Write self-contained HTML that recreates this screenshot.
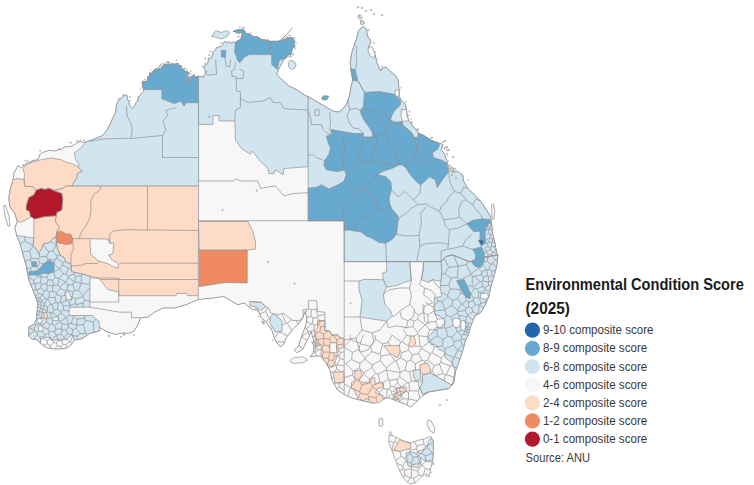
<!DOCTYPE html>
<html lang="en"><head><meta charset="utf-8"><title>Environmental Condition Score (2025)</title>
<style>html,body{margin:0;padding:0;background:#fff;}body{width:754px;height:485px;position:relative;overflow:hidden;font-family:"Liberation Sans",sans-serif;}</style>
</head><body>
<svg width="754" height="485" viewBox="0 0 754 485" style="position:absolute;left:0;top:0">
<polygon points="18.1,165.4 21.4,167.9 24.7,164.6 27.2,162.7 30.2,161.9 33,160.5 37.9,159.7 38.9,157.3 39.6,154.7 42.6,152.4 46.2,151.4 49.4,150.4 52.8,150.6 55.6,151 58.2,149.4 61,149.8 63.2,147.7 66,146.5 69.3,146.8 72.5,145.7 74.8,144.5 76.8,142.7 79.1,141.5 81.6,142 84.1,142.4 85.7,141.9 92.3,139.9 102.2,135.8 107.2,130 111.5,120.9 115.7,112.7 116.5,104.4 118.5,101 120.1,99.6 121.4,97.8 123.3,96.2 126.4,94.8 127.2,96.8 127.3,99 128.8,101.3 129.3,104 130,105.8 131.2,107.3 132.5,108.7 133.6,107 135,105.5 135.6,103.5 136.6,101.9 138.1,100.5 138.3,98.5 138.9,96.7 140.3,95.3 141.2,93.7 143.7,91.2 143.7,89.6 143.2,88 142.3,86.4 142.8,84.6 142,83 142.9,81.2 145.6,81.9 147.2,81.1 147.8,78.9 147.5,76.9 149.4,76.3 149.6,74.7 149.8,73 153.2,73.5 152.8,71.4 154.2,70.5 155.2,68.8 157.6,69.9 158.3,67.6 160.9,69.4 161.8,67.3 162.9,65.7 164.2,64.5 166,64.5 167.7,64.4 169.4,64.3 171.5,65.2 172.5,63.2 173.9,64.5 176,63.9 178.1,63.4 179.1,65.7 181.3,65.9 180.5,69.4 183.2,69 183.9,70.8 185.7,71.4 188,72 188.9,73.4 187,76.4 189,77.2 188.4,78.8 189.2,80.6 188.2,82.2 188.7,80.3 189,78.4 190.3,77.1 192.3,76.4 193.9,74.6 195.4,77.7 197,76.3 198.6,76.4 203.9,77.2 204,74.8 206.2,73.4 206.6,71.1 204.8,69.9 204.1,67.8 204.2,65.6 206.4,64.6 208,63.4 208.2,61.2 208.7,58.6 211.6,57.8 212.4,55.4 212.9,53.1 213.8,51.1 215.7,49.7 216.7,47.6 218.7,47.1 220.6,46.4 222.4,45.1 223.3,43.1 224.7,41.4 226.4,42.8 228.8,41.9 230.5,43.1 232.9,42.3 235.4,42.3 241.2,39 241.5,36.3 242.9,34 240.6,32.6 237.9,33.2 235.8,31.4 233,31.5 235.1,30.5 237.4,30.1 239.6,29.6 242.1,29.8 244.5,30.7 245.3,32.7 247,34 249.3,33.9 251.2,34.8 252.8,36.5 255,36.8 257.3,37 259.4,38.1 261.2,39.5 263.3,39.9 265.5,40.1 267.6,40.6 270.1,41.4 277.5,41.4 279.3,41.2 281,40.7 282.7,40.3 284.1,39 286,39.7 287.2,37.2 289.1,38.1 290.7,37.3 292.8,38 293.5,39.9 294.8,41.4 294,43.9 294.8,46.4 292.7,47.8 292,49.9 291.5,52.2 290.9,54.3 289,54.6 287.4,55.4 286.4,57.7 284.1,58.7 281.6,63.7 278.3,69.5 276.7,74.4 282.4,80.2 289,86 297.3,90.1 305.5,95.8 308.2,96.5 316.5,101.5 324.7,106.4 333,111 336,112 339.6,111.6 344,107.8 347.1,102.9 349.2,96.5 350.4,91 351.5,85 352.8,80 351.1,70.9 350.3,62.7 351.9,52.8 354.4,44.5 356.9,37.9 358.5,30.5 363.5,26.4 366,28.9 367.6,36.3 370.9,41.2 368.4,47.8 375,54.4 376.7,62.7 380.8,70.9 384.9,66.8 389.9,70.9 395.6,75.8 398.1,80 399,90 399,96.5 402.3,101.1 405.1,103.9 406.5,109.5 406.9,116 408.8,120.6 412,125.3 417.1,130.9 418.1,133.1 423.9,135.6 431.3,140.5 438.7,143 442.9,144.6 441.2,149.6 444.5,154.5 447,161.1 448.6,169.4 452.8,172.7 456.9,171 462.7,175.1 463.5,181 467.6,188.2 474.2,194.8 480.8,201.4 485.7,208.9 489.9,215.4 491.5,222.9 492.3,232.8 494.8,242.7 496.5,252.5 497.9,255 497.1,263.2 495.4,271.5 492.9,279.7 490.5,288 488.8,296.2 485.5,304.5 480.6,312.7 475,315.8 473.1,320.4 470.4,326.9 468.5,334.4 464.8,341.8 463.9,346.4 460.4,358 455.4,371.2 453.8,382.7 448.8,388.5 438.9,390.1 429,391.8 422.4,395.9 415.8,402.5 410.5,407 405,404 401,402.5 394.4,400 387.8,397.5 381.2,400 373,403.3 363.1,400.8 353.2,398.4 346.6,395.9 344.2,394.5 337.5,390 332,380 329.9,370 325.7,362.5 320.8,356 315.8,356 310.1,356.8 313.4,352.7 314.2,346 313.4,339.5 310.9,331.2 309.3,336.2 306,342.8 302.7,349.4 296.9,352.7 294.4,350.2 298.5,346 301,337.8 303.5,331.2 306,324.6 306.8,318 305.1,311.4 302.7,318 299.4,323 292.8,329.6 286.2,337.8 283.7,344.4 280.4,346.9 275.4,341.1 272.2,331.2 266.4,322.2 261.4,318 258.1,309.8 252.4,309.8 246.6,304.8 244,303.1 237.9,304.7 232.1,301.4 223.9,296.5 212.3,298.1 198.3,299.5 186,304.7 174.4,308 162.9,308 154.6,312.2 148,317.1 140.6,317.9 138.1,324.5 134,331.1 128.2,333.6 124,332.8 115.4,334.4 107.2,331.9 98.9,327 98.9,331.1 89,333.6 82.4,338.5 74.2,340.2 70.9,345.1 66,348.4 56.1,349.2 46.2,347.6 40.4,343.5 36,339 32.2,339.4 28.9,336.1 28.9,327 33.8,324.5 36.3,319.6 37.1,311.3 37.9,303.1 35.4,296.5 32.2,288.2 28.9,280 26.4,266 23.1,254.4 19.8,242.9 16.5,234.6 14.8,228 17.3,221.4 14.8,213.2 9.9,206.6 9.1,200 9.1,196 10.7,187.7 13.2,179.5 14,172.9" fill="#f7f7f7" stroke="#8f8f8f" stroke-width="0.9" stroke-linejoin="round"/>
<polygon points="85.7,141.9 92.3,139.9 102.2,135.8 107.2,130 111.5,120.9 115.7,112.7 116.5,104.4 118.5,101 120.1,99.6 121.4,97.8 123.3,96.2 126.4,94.8 127.2,96.8 127.3,99 128.8,101.3 129.3,104 130,105.8 131.2,107.3 132.5,108.7 133.6,107 135,105.5 135.6,103.5 136.6,101.9 138.1,100.5 138.3,98.5 138.9,96.7 140.3,95.3 141.2,93.7 143.7,91.2 143.7,89.6 143.2,88 142.3,86.4 142.8,84.6 142,83 142.9,81.2 145.6,81.9 147.2,81.1 147.8,78.9 147.5,76.9 149.4,76.3 149.6,74.7 149.8,73 153.2,73.5 152.8,71.4 154.2,70.5 155.2,68.8 157.6,69.9 158.3,67.6 160.9,69.4 161.8,67.3 162.9,65.7 164.2,64.5 166,64.5 167.7,64.4 169.4,64.3 171.5,65.2 172.5,63.2 173.9,64.5 176,63.9 178.1,63.4 179.1,65.7 181.3,65.9 180.5,69.4 183.2,69 183.9,70.8 185.7,71.4 188,72 188.9,73.4 187,76.4 189,77.2 188.4,78.8 189.2,80.6 188.2,82.2 188.7,80.3 189,78.4 190.3,77.1 192.3,76.4 193.9,74.6 195.4,77.7 197,76.3 198.6,76.4 198.6,186.1 71.7,186.1 72.5,184.4 76.7,177.8 77.5,173.2 82.4,171.2 77.5,168.7 79.1,165.4 75.8,159.7 74.2,153.1 82.4,146.5" fill="#d1e5f0" stroke="#8f8f8f" stroke-width="0.7" stroke-linejoin="round"/>
<polygon points="143.7,89.6 143.2,88 142.3,86.4 142.8,84.6 142,83 142.9,81.2 145.6,81.9 147.2,81.1 147.8,78.9 147.5,76.9 149.4,76.3 149.6,74.7 149.8,73 153.2,73.5 152.8,71.4 154.2,70.5 155.2,68.8 157.6,69.9 158.3,67.6 160.9,69.4 161.8,67.3 162.9,65.7 164.2,64.5 166,64.5 167.7,64.4 169.4,64.3 171.5,65.2 172.5,63.2 173.9,64.5 176,63.9 178.1,63.4 179.1,65.7 181.3,65.9 180.5,69.4 183.2,69 183.9,70.8 185.7,71.4 188,72 188.9,73.4 187,76.4 189,77.2 188.4,78.8 189.2,80.6 188.2,82.2 188.7,80.3 189,78.4 190.3,77.1 192.3,76.4 193.9,74.6 195.4,77.7 197,76.3 198.6,76.4 198.6,102.8 185.7,102.8 184.1,106.1 180.8,101.1 174.2,103.6 161.8,98.6 161.8,89.6" fill="#67a9cf" stroke="#8f8f8f" stroke-width="0.7" stroke-linejoin="round"/>
<polygon points="24.7,165.4 34.6,161.3 41.2,159.7 51.1,158 61,159.7 66,162.2 72.5,163.8 78.3,167.1 81.9,171.2 77.5,173.2 76.7,177.8 72.5,184.4 71.7,186.1 66,186.1 62.7,188.5 54.4,190.2 49.5,188.5 44.5,189.4 41.2,188.5 36.3,190.2 33,186.9 24.7,186.1 23.9,179.5 24.7,174.5 23.1,169.6" fill="#fddbc7" stroke="#8f8f8f" stroke-width="0.7" stroke-linejoin="round"/>
<polygon points="14,179.5 18.1,178.6 23.9,179.5 24.7,186.1 33,186.9 36.3,190.2 33.8,195.1 28.9,197.6 26.4,205.8 26.4,209.9 29.7,211.5 30.5,216.5 28.9,218.5 20.6,222.3 17.3,221.4 14.8,213.2 9.9,206.6 9.1,200 9.1,196 10.7,187.7 13.2,179.5" fill="#fddbc7" stroke="#8f8f8f" stroke-width="0.7" stroke-linejoin="round"/>
<polygon points="61.8,193.5 54.4,190.6 62.7,188.5 66,186.1 198.6,186.1 198.3,295.7 187.6,295.7 186.8,293.2 177,293.5 176,295.7 118.7,295.7 118.7,292 107.5,289.5 100,279.5 98.9,278.3 82.4,274.2 71.7,271.7 70.9,266 70.9,263.5 66,262.7 64.3,257.7 60.2,255.2 57.7,249.5 56.1,242.5 56.1,237.1 56.9,232.2 59.4,227.2 55.2,221.4 56.1,215.7 56.9,212.4 61.8,209.9 62.7,199.2" fill="#fddbc7" stroke="#8f8f8f" stroke-width="0.7" stroke-linejoin="round"/>
<polygon points="34.6,219 44.5,216.5 56.1,215.7 55.2,221.4 59.4,227.2 56.9,231.3 56.1,237.1 52.8,238.7 49.5,242.9 43.7,243.7 41.2,249.5 38.7,253.6 35.4,247.8 33,246.2 33.8,237.9 33.8,219.5" fill="#fddbc7" stroke="#8f8f8f" stroke-width="0.7" stroke-linejoin="round"/>
<polygon points="89.9,238.7 108,239.1 109.6,243.2 113.8,243.2 112.9,253.6 108.8,255.2 112.1,260.2 118.7,263.5 117.9,268.4 113.8,266.8 107.2,263.5 98.9,261 90.7,254.4" fill="#f7f7f7" stroke="#8f8f8f" stroke-width="0.7" stroke-linejoin="round"/>
<polygon points="36.3,190.2 41.2,188.5 44.5,189.4 49.5,188.5 54.4,191 61.8,193.5 62.7,199.2 61.8,209.9 56.9,212.4 56.1,215.7 44.5,216.5 34.6,219 30.5,216.5 29.7,211.5 26.4,209.9 26.4,205.8 28.9,197.6 33.8,195.1" fill="#b2182b" stroke="#8f8f8f" stroke-width="0.7" stroke-linejoin="round"/>
<polygon points="56.9,232.2 61.8,231.3 65.1,233.8 70.9,234.3 72.5,238.7 71.7,243.7 66,244.5 61,243.2 56.1,242 56.1,237.1" fill="#ef8a62" stroke="#8f8f8f" stroke-width="0.7" stroke-linejoin="round"/>
<polygon points="16.5,235.4 33.8,237.9 33,246.2 35.4,247.8 38.7,253.6 41.2,249.5 43.7,243.7 49.5,242.9 52.8,238.7 56.1,237.1 56.1,242.5 57.7,249.5 60.2,255.2 64.3,257.7 66,262.7 70.9,263.5 70.9,266 71.7,271.7 82.4,274.2 89.9,276 89.9,307.2 69.2,307.2 69.2,315.5 92.3,315.5 95.6,318.7 98.9,321.2 99.7,329.5 98.9,331.1 89,333.6 82.4,338.5 74.2,340.2 72.5,334.4 66,339.7 51.1,340.2 49.5,337.7 40.4,336.9 40.4,343.5 36,339 32.2,339.4 28.9,336.1 28.9,327 33.8,324.5 36.3,319.6 37.1,311.3 37.9,303.1 35.4,296.5 32.2,288.2 28.9,280 26.4,266 23.1,254.4 19.8,242.9" fill="#d1e5f0" stroke="#8f8f8f" stroke-width="0.7" stroke-linejoin="round"/>
<polygon points="198.6,76.4 203.9,77.2 204,74.8 206.2,73.4 206.6,71.1 204.8,69.9 204.1,67.8 204.2,65.6 206.4,64.6 208,63.4 208.2,61.2 208.7,58.6 211.6,57.8 212.4,55.4 212.9,53.1 213.8,51.1 215.7,49.7 216.7,47.6 218.7,47.1 220.6,46.4 222.4,45.1 223.3,43.1 224.7,41.4 226.4,42.8 228.8,41.9 230.5,43.1 232.9,42.3 235.4,42.3 241.2,39 241.5,36.3 242.9,34 240.6,32.6 237.9,33.2 235.8,31.4 233,31.5 235.1,30.5 237.4,30.1 239.6,29.6 242.1,29.8 244.5,30.7 245.3,32.7 247,34 249.3,33.9 251.2,34.8 252.8,36.5 255,36.8 257.3,37 259.4,38.1 261.2,39.5 263.3,39.9 265.5,40.1 267.6,40.6 270.1,41.4 277.5,41.4 279.3,41.2 281,40.7 282.7,40.3 284.1,39 286,39.7 287.2,37.2 289.1,38.1 290.7,37.3 292.8,38 293.5,39.9 294.8,41.4 294,43.9 294.8,46.4 292.7,47.8 292,49.9 291.5,52.2 290.9,54.3 289,54.6 287.4,55.4 286.4,57.7 284.1,58.7 281.6,63.7 278.3,69.5 276.7,74.4 282.4,80.2 289,86 297.3,90.1 305.5,95.8 308.2,96.5 308.2,166.7 284,168.5 283,174.7 275.5,169.7 274,173.5 269,173.5 268,168.5 260,161 252.3,150.7 250.5,154.2 241.8,148.9 235.5,140 234.8,120.9 219,120.9 219,115.6 213,115.6 213,124.4 198.6,124.4" fill="#d1e5f0" stroke="#8f8f8f" stroke-width="0.7" stroke-linejoin="round"/>
<polygon points="235.4,42.3 241.2,39 241.5,36.3 242.9,34 240.6,32.6 237.9,33.2 235.8,31.4 233,31.5 235.1,30.5 237.4,30.1 239.6,29.6 242.1,29.8 244.5,30.7 245.3,32.7 247,34 249.3,33.9 251.2,34.8 252.8,36.5 255,36.8 257.3,37 259.4,38.1 261.2,39.5 263.3,39.9 265.5,40.1 267.6,40.6 270.1,41.4 270.1,54.6 249.5,54.6 244.5,57.1 239.6,62.9 237.1,59.6 234.6,51.3" fill="#67a9cf" stroke="#8f8f8f" stroke-width="0.7" stroke-linejoin="round"/>
<polygon points="270.1,41.4 277.5,41.4 279.3,41.2 281,40.7 282.7,40.3 284.1,39 286,39.7 287.2,37.2 289.1,38.1 290.7,37.3 292.8,38 293.5,39.9 294.8,41.4 294,43.9 294.8,46.4 292.7,47.8 292,49.9 291.5,52.2 290.9,54.3 289,54.6 287.4,55.4 286.4,57.7 284.1,58.7 279.1,60.4 277.5,69.5 271.7,64.5 271.7,54.6 270.1,54.6" fill="#67a9cf" stroke="#8f8f8f" stroke-width="0.7" stroke-linejoin="round"/>
<polygon points="221.4,50.5 225.6,50.5 225.6,57.1 221.4,57.1" fill="#67a9cf" stroke="#8f8f8f" stroke-width="0.7" stroke-linejoin="round"/>
<polygon points="308.2,96.5 316.5,101.5 324.7,106.4 333,111 336,112 339.6,111.6 344,107.8 347.1,102.9 349.2,96.5 350.4,91 351.5,85 352.8,80 351.1,70.9 350.3,62.7 351.9,52.8 354.4,44.5 356.9,37.9 358.5,30.5 363.5,26.4 366,28.9 367.6,36.3 370.9,41.2 368.4,47.8 375,54.4 376.7,62.7 380.8,70.9 384.9,66.8 389.9,70.9 395.6,75.8 398.1,80 399,90 399,96.5 402.3,101.1 405.1,103.9 406.5,109.5 406.9,116 408.8,120.6 412,125.3 417.1,130.9 418.1,133.1 423.9,135.6 431.3,140.5 438.7,143 442.9,144.6 441.2,149.6 444.5,154.5 447,161.1 448.6,169.4 452.8,172.7 456.9,171 462.7,175.1 463.5,181 467.6,188.2 474.2,194.8 480.8,201.4 485.7,208.9 489.9,215.4 491.5,222.9 492.3,232.8 494.8,242.7 496.5,252.5 497.9,255 492,256 480,258 470,262 452.5,255 446,256.6 441,261.6 344.2,261.6 344.2,220.7 308.2,220.7" fill="#d1e5f0" stroke="#8f8f8f" stroke-width="0.7" stroke-linejoin="round"/>
<polygon points="364.3,92.4 379.1,91.6 392.1,93.7 394.9,94.6 398.1,97.4 400.4,100.7 400.9,103.9 398.6,106.7 393.9,111.4 391.6,116 390.7,119.7 393.9,122 398.6,122 402.3,121.6 402.7,125.7 406,128.1 409.7,130.9 412.5,133.6 414,137.5 418.1,137 418.1,133.1 423.9,135.6 431.3,140.5 438.7,143 439.6,145.4 437.1,149.6 432.2,152.9 433.8,157.8 442,160.3 446.2,162.8 448.6,171.8 442.9,179.3 437.1,187.5 435.4,180.1 429.7,176.8 420.6,185 415.7,180.9 409.9,174.3 405.8,167.7 402.2,165 398.9,165 392.3,168.3 382.4,171.6 377.5,174.9 385.7,176.5 390.7,181.5 391.5,189.7 389,198 389.9,204.6 392.3,209.5 398.1,216.1 398.1,221.1 396.5,234.2 392.3,239.2 385.7,243.3 379.1,242.5 372.5,238.4 366,235.9 361,231.8 354.4,231 349.5,230.1 344.2,230.1 344.2,220.7 308.2,220.7 308.2,188.1 316.5,187.3 321.4,184.8 328.9,188.9 336.3,185.6 343.7,181.5 346.2,174.9 344.5,169.9 337.9,171.6 326.4,169.9 323.9,165 324.7,160.8 328.9,154.3 330.5,147.7 328,142.7 326.4,136.1 332.2,134.5 331.3,129.5 344.5,132 354.4,133.6 363.5,133.6 363.5,136.9 372.5,136.9 372.5,132.8 368.4,126.2 364.3,120.4 361.8,115.5 360.2,110.6 363.5,106.4" fill="#67a9cf" stroke="#8f8f8f" stroke-width="0.7" stroke-linejoin="round"/>
<polygon points="351.1,68.4 355.2,70 357.7,80 352.8,80" fill="#67a9cf" stroke="#8f8f8f" stroke-width="0.7" stroke-linejoin="round"/>
<polygon points="198.5,221.5 248,221.5 250,226 253,232 255.5,242 255.5,249 247.2,250.2 199.2,250.2" fill="#fddbc7" stroke="#8f8f8f" stroke-width="0.7" stroke-linejoin="round"/>
<polygon points="199.2,250.2 247.2,250.2 247.2,283 225.5,282.5 199.2,286.6" fill="#ef8a62" stroke="#8f8f8f" stroke-width="0.7" stroke-linejoin="round"/>
<polygon points="441,261.6 446,256.6 452.5,255 470,262 480,258 492,256 497.9,255 497.1,263.2 495.4,271.5 492.9,279.7 490.5,288 488.8,296.2 485.5,304.5 480.6,312.7 475,315.8 473.1,320.4 470.4,326.9 468.5,334.4 464.8,341.8 463.9,346.4 460.4,358 455.4,371.2 453.8,382.7 448.8,388.5 438.9,390.1 429,391.8 422.4,394.2 420,387.7 422.4,382.7 422.4,375.3 429.9,372.8 438.9,377.8 452.1,385.2 455.4,371.2 452.1,362.9 445.5,358 443.9,351.4 438.9,349.7 435,344 431.4,345 427.6,339.9 428.6,336.2 434.6,330.6 435.1,327.9 441.1,326.9 445.3,322.3 444.8,319.5 440.6,316.7 434.6,313.9 434.1,300 434.4,297.9 441.8,296.2 440.2,288 441,281.4 441.8,271.5" fill="#d1e5f0" stroke="#8f8f8f" stroke-width="0.7" stroke-linejoin="round"/>
<polygon points="386.6,261.6 409.7,261.6 410.5,271.5 411.3,280.6 404.7,282.2 396.5,285.5 386.6,287.2 383.3,279.7 382.5,273.1 386.6,271.5" fill="#d1e5f0" stroke="#8f8f8f" stroke-width="0.7" stroke-linejoin="round"/>
<polygon points="359,281 364,279.5 376,279.5 380,279.7 383.3,279.7 386.6,287.2 383.3,294.6 384.9,304.5 389.9,309.4 392.4,316 386.6,321 372,319 360,317 362,300 359,290" fill="#d1e5f0" stroke="#8f8f8f" stroke-width="0.7" stroke-linejoin="round"/>
<polygon points="423.7,261.6 441,261.6 441.8,271.5 441,281.4 432.8,279.7 427.8,282.2 421.2,279.7 422.9,271.5" fill="#d1e5f0" stroke="#8f8f8f" stroke-width="0.7" stroke-linejoin="round"/>
<polygon points="317.5,320.5 324.9,320.5 324.9,330.4 329.9,331.2 332.3,335.3 337.3,334.5 340.6,337.8 343.9,338.6 343.9,347.7 338.9,348.5 337.3,356 334.8,362.5 332.3,367.5 329.9,366.7 325.7,362.5 320.8,356 321.6,347.7 317.5,344.4 315,337.8 314.2,331.2 317.5,327.9" fill="#fddbc7" stroke="#8f8f8f" stroke-width="0.7" stroke-linejoin="round"/>
<polygon points="354.8,371.2 360.6,370.3 362.3,376.1 359,380.2 363.1,382.7 370.5,381.9 371.3,377.8 374.6,377.8 375.4,384.4 379.6,382.7 383.7,383.5 382.9,387.7 377.1,388.5 375.4,392.6 382,395.1 383.7,399.2 379.6,402.5 373,403.3 368,398.4 363.1,400.8 356.5,395.9 354.8,390.9 351.5,387.7 351.5,382.7 354.8,380.2" fill="#fddbc7" stroke="#8f8f8f" stroke-width="0.7" stroke-linejoin="round"/>
<polygon points="396.1,387.7 406,386.8 406.8,390.9 401.8,394.2 399.4,399.2 394.4,400 392.8,395.9 396.9,392.6" fill="#fddbc7" stroke="#8f8f8f" stroke-width="0.7" stroke-linejoin="round"/>
<path d="M20.2,244 24.6,241.1M24.6,241.1 24.9,236.7M29,335 34.4,330.8M34.4,330.8 34.1,330.2M34.1,330.2 29,327.4M25.1,260.9 30.6,259.6M30.6,259.6 31.5,258.6M31.5,258.6 29.7,251M29.7,251 22.5,251.8M29.7,251 33.1,246.4M33,245.5 24.6,241.1M30.6,259.6 32.2,266.2M32.2,266.2 37.7,266.5M37.7,266.5 39.4,262.9M39.4,262.9 38.1,258.6M38.1,258.6 31.5,258.6M26.9,268.4 30.4,268.7M30.4,268.7 32.2,266.2M28.4,276.8 32.3,272.7M32.3,272.7 30.4,268.7M38.1,258.6 39.6,256.8M39.6,256.8 39.1,253.1M31,284.8 34.1,283.1M34.1,283.1 33.6,280.4M33.6,280.4 28.5,277.3M33.6,280.4 37.3,276.2M37.3,276.2 34.9,273.1M34.9,273.1 32.3,272.7M33.6,339.2 37.3,334.9M37.3,334.9 37.1,332.3M37.1,332.3 34.4,330.8M33.2,290.4 36.2,289.6M36.2,289.6 34.9,283.5M34.9,283.5 34.1,283.1M51,241.2 56,245.2M56,245.2 56.6,245.1M35.5,296.5 38.1,293.3M38.1,293.3 36.9,289.9M36.9,289.9 36.2,289.6M34.1,330.2 35.4,324.7M35.4,324.7 34.4,323.5M37.1,332.3 40.5,330.5M40.5,330.5 42.3,327M42.3,327 42.1,325.5M42.1,325.5 40.7,324.2M40.7,324.2 35.4,324.7M34.9,273.1 38.2,268.5M38.2,268.5 37.7,266.5M34.9,283.5 40.6,282.8M40.6,282.8 41,276.9M41,276.9 37.3,276.2M36.9,314.5 38.7,314.5M38.7,314.5 39.4,311.8M39.4,311.8 37.3,310.8M39.6,256.8 46.6,256.5M46.6,256.5 48.9,251.7M48.9,251.7 43.1,245.4M36.9,289.9 40.8,287.8M40.8,287.8 41.6,284M41.6,284 40.6,282.8M40.7,324.2 39.9,319M39.9,319 36.5,318.9M41,276.9 42,270.7M42,270.7 38.2,268.5M39.9,319 40.7,318M40.7,318 38.7,314.5M40.9,317.9 42.3,312.3M42.2,312.2 39.4,311.8M37.8,302.6 38.6,301.8M38.6,301.8 38.1,300M38.1,300 36.5,299.2M42,270.7 44.7,269.6M44.7,269.6 45.9,264.9M45.9,264.9 39.4,262.9M38.1,300 40.2,299M40.2,299 40.1,297.8M40.1,297.8 35.7,297.1M50.5,348.2 50.1,346M50.1,346 47.4,343.7M47.4,343.7 43.1,345.3M39.8,342.8 41.4,338.9M41.4,338.9 37.3,334.9M47.4,343.7 47.3,340.8M47.3,340.8 43.3,338.3M43.3,338.3 41.4,338.9M39.4,311.8 40.7,308M40.7,308 40.4,307.5M40.4,307.5 37.6,307M43.3,338.3 45,334.5M45,334.5 40.5,330.5M38.1,293.3 42.2,294.6M42.3,294.6 44.3,291.2M44.3,291.2 40.8,287.8M42.1,325.5 46.5,322.1M46.5,322.1 46.5,319.4M46.5,319.4 44.6,317.6M44.6,317.6 40.9,317.9M37.9,304.4 40.5,304.1M40.5,304.1 41.2,301.9M41.2,301.9 38.6,301.8M40.1,297.8 42.2,294.6M41.6,284 46.5,284.2M46.5,284.2 48.1,279.8M48.1,279.8 46.7,277.1M46.7,277.1 41,276.9M44.3,291.2 46.6,290.5M46.6,290.5 47.3,285.2M47.3,285.2 46.5,284.2M41.5,301.6 41.7,300.8M41.7,300.8 40.2,299M40.4,307.5 41.4,305.7M41.4,305.7 40.5,304.1M42.2,312.2 42.5,308.8M42.5,308.8 40.7,308M41.4,305.7 44.5,305M44.5,305 44.4,304.2M44.4,304.2 41.5,301.6M41.7,300.8 45.9,298.5M45.9,298.5 42.3,294.6M42.6,308.7 45.1,305.7M45.1,305.7 44.5,305M45,334.5 48.4,333.3M48.4,333.3 49.2,332M49.2,332 47.9,328.9M47.9,328.9 42.3,327M42.3,312.3 46.4,312.8M46.4,312.8 47.7,311.8M47.7,311.8 47.4,310.9M47.4,310.9 42.6,308.7M45.9,264.9 46.5,264.5M46.5,264.5 48,259.1M48,259.1 46.6,256.5M44.4,304.2 47.4,298.9M47.4,298.9 45.9,298.5M45.1,305.7 47.4,306.9M47.4,306.9 50.9,304.1M50.9,304.1 47.6,298.9M44.6,317.6 46.4,312.8M47.4,310.9 47.4,306.9M47.6,298.9 49,297.5M49,297.5 49.5,292.1M49.5,292.1 46.6,290.5M46.5,319.4 50.8,317.8M50.8,317.8 51,312.9M51,312.9 47.7,311.8M48.9,251.7 52.8,251.1M52.8,251.1 56,245.2M44.7,269.6 48.9,273.2M48.9,273.2 51.5,272.3M51.5,272.3 50.8,266.3M50.8,266.3 46.5,264.5M47.3,340.8 50.3,338.4M50.3,338.4 48.4,333.3M46.7,277.1 48.9,273.2M47.9,328.9 50.5,324.5M50.5,324.5 46.5,322.1M49.5,292.1 52.6,291M52.6,291 52.8,285.9M52.8,285.9 47.3,285.2M55.1,348.9 57.4,345.6M57.4,345.6 56.4,343M56.4,343 53.8,342.5M53.8,342.5 50.1,346M52.8,285.9 53.5,285.2M53.5,285.2 52.6,280.2M52.6,280.2 48.1,279.8M52.6,280.2 55.5,277.4M55.5,277.4 53.7,273M53.7,273 51.5,272.3M50.9,304.1 52,304.3M52,304.3 56.1,302.4M56.1,302.4 54.9,297.6M54.9,297.6 49,297.5M50.5,324.5 52.2,324.1M52.2,324.1 52.6,319.6M52.6,319.6 50.8,317.8M51,312.9 52,312.5M52,312.5 53.7,310.1M53.7,310.1 52,304.3M53.8,342.5 52.1,338.8M52.1,338.8 50.3,338.4M49.2,332 54.5,331.5M54.5,331.5 55.7,329M55.7,329 54.7,325.5M54.7,325.5 52.2,324.1M48,259.1 54.8,260M54.8,260 56.8,258.2M56.8,258.2 57.1,256.2M57.1,256.2 52.8,251.1M52.1,338.8 56.2,335.8M56.2,335.8 56.3,335.1M56.3,335.1 54.5,331.5M54.8,260 54.2,264.4M54.2,264.4 59.1,268.7M59.5,268.7 62.6,265M62.6,265 62.9,263M62.9,263 56.8,258.2M50.8,266.3 54.2,264.4M52.6,319.6 57.9,317.9M57.9,317.9 58.1,316.3M58.1,316.3 52,312.5M54.9,297.6 56.7,294.2M56.7,294.2 56.5,293M56.5,293 52.6,291M56.4,343 58.6,340.5M58.6,340.5 56.2,335.8M53.7,273 59.1,268.7M56.5,293 60.3,288.5M60.3,288.5 59.9,286.8M59.9,286.8 58.1,285.2M58.1,285.2 53.5,285.2M57.1,256.2 59.8,254.6M53.7,310.1 57.6,309.3M57.6,309.3 58,303.1M58,303.1 56.1,302.4M54.7,325.5 60,321.7M60,321.7 57.9,317.9M58.1,285.2 58.7,278.5M58.7,278.5 55.5,277.4M58.1,316.3 61,313.1M61,313.1 61.1,311.9M61.1,311.9 57.6,309.3M56.3,335.1 61.1,334.3M61.1,334.3 62.2,329.9M62.2,329.9 61.3,329M61.3,329 55.7,329M58,303.1 60.5,302.6M60.5,302.6 61.2,296.4M61.2,296.4 56.7,294.2M61.4,348.7 61,346.6M61,346.6 57.4,345.6M61,346.6 62.9,344.3M62.9,344.3 61.5,340.6M61.5,340.6 58.6,340.5M61.3,329 62,323.9M62,323.9 60.4,321.8M60.4,321.8 60,321.7M58.7,278.5 59.4,278.3M59.4,278.3 63,273.8M63,273.8 59.5,268.7M61.2,296.4 64.9,295.1M64.9,295.1 65.3,290.8M65.3,290.8 60.3,288.5M60.4,321.8 66.2,317.6M66.3,317.4 61,313.1M59.9,286.8 65.3,282.2M65.3,282.2 59.4,278.3M62.9,263 65.3,261M66.8,347.7 65.9,344.7M65.9,344.7 62.9,344.3M61.1,311.9 63.3,309.9M63.3,309.9 63.7,306.2M63.7,306.2 61.5,303M61.5,303 60.5,302.6M63,273.8 66,274M66,274 68.7,268.5M68.7,268.5 62.6,265M62.2,329.9 66.2,330M66.2,330 68.4,327.1M68.4,327.1 68.3,324.7M68.3,324.7 62,323.9M61.5,340.6 64.2,337.4M64.2,337.3 61.1,334.3M64.2,337.3 67.7,333.9M67.7,333.9 66.2,330M65.9,344.7 69.1,341.7M69.1,341.7 64.2,337.4M61.5,303 66.1,300.3M66.1,300.3 66.1,296.5M66.1,296.5 64.9,295.1M65.3,290.8 66.8,290M66.8,290 68.1,285.1M68.1,285.1 65.7,282.1M66.3,317.4 69.2,315.6M69.1,311.3 63.3,309.9M68.7,268.5 71,267.7M65.7,282.1 68.2,277.6M68.2,277.6 68.1,276.3M68.1,276.3 66,274M68.3,324.7 68.7,324.2M68.7,324.2 66.2,317.6M68.1,276.3 74.1,273.9M74.1,273.9 74.3,272.4M72.1,343.1 70.6,341.7M70.6,341.7 69.1,341.7M66.1,296.5 72.3,296.5M72.3,296.5 73,291.9M73,291.9 66.8,290M70.6,341.7 72.7,335.8M72.7,335.8 71.8,334.7M71.8,334.7 67.7,333.9M63.7,306.2 69.9,305M69.9,305 69.4,302.5M69.4,302.5 66.1,300.3M69.4,302.5 72.9,297.5M72.9,297.5 72.3,296.5M68.7,324.2 71.2,323.2M71.2,323.2 73.6,316.3M73.6,316.3 73.3,315.6M71.8,334.7 72.9,329.9M72.9,329.9 68.4,327.1M72.9,329.9 76,328.2M76,328.2 76.6,325.4M76.6,325.4 71.2,323.2M68.1,285.1 72.8,284.4M72.8,284.4 74.5,281.8M74.5,281.8 68.2,277.6M70.5,307.1 70.1,305.2M70.1,305.2 75.7,303.7M75.7,303.7 75.4,298.8M75.4,298.8 72.9,297.5M74.1,273.9 75.8,276.2M75.8,276.2 81.3,275.9M81.3,275.9 82.6,274.3M73,291.9 74.7,290.5M74.7,290.5 72.8,284.4M76.7,307.1 76.5,304.4M76.5,304.4 75.7,303.7M75.4,298.8 82.9,296.7M82.9,296.7 82.9,295.2M82.9,295.2 78.3,290.5M78.3,290.5 74.7,290.5M87.5,334.6 85.7,333.5M85.7,333.5 80.5,333.5M80.5,333.5 76.9,336M76.9,336 77.5,339.4M76.9,336 72.7,335.8M80.5,333.5 76,328.2M74.8,281.7 75.8,276.2M78.3,290.5 81.3,283.4M81.3,283.4 74.8,281.7M73.6,316.3 77.1,319.1M77.1,319.1 84.3,318.1M84.3,318.1 84.4,315.6M76.6,325.4 76.9,325.1M76.9,325.1 77.1,319.1M76.5,304.4 83.2,303.1M83.2,303.1 84.9,300.1M84.9,300.1 82.9,296.7M76.9,325.1 83.5,324.7M83.5,324.7 85.6,320.6M85.6,320.6 84.3,318.1M85.7,333.5 83.5,324.7M82.9,295.2 89.8,287.9M89.8,284.6 81.4,283.3M81.3,275.9 81.4,283.3M83.2,307.1 83.2,303.1M89.8,301 84.9,300.1M96.2,319.3 93.5,321.9M93.5,321.9 93.9,332.3M93.5,321.9 85.6,320.6" fill="none" stroke="#8f8f8f" stroke-width="0.7"/>
<path d="M350.5,387.6 347.8,396.2M356.9,399.2 360.3,393.2M360.3,393.2 359.6,391.7M359.6,391.7 350.5,387.6M350.5,387.5 344.3,384M344.3,346.3 350.7,339.7M350.7,339.7 349.9,335.1M409.3,318.8 414,321.4M414,321.4 417.6,319.2M417.6,319.2 418.4,315.1M418.4,315.1 413.8,311.1M350.7,339.7 360.3,343M360.3,343 363.2,335.1M352.4,352.3 344.3,347.4M344.3,363.7 345.6,363.6M345.6,363.6 351.6,359.5M351.6,359.5 352.4,352.3M352.4,352.3 358.4,349.7M358.4,349.7 360.5,343.7M360.5,343.7 360.3,343M345.6,363.6 353.2,371.2M353.2,371.2 359.4,367.9M359.4,367.9 360,363.2M360,363.2 351.6,359.5M344.3,377.6 352.2,375.2M352.2,375.2 353.2,371.2M352.2,375.2 356.4,379.7M356.4,379.7 357.5,379.8M357.5,379.8 364,373.9M364,373.9 363.9,372.9M363.9,372.9 359.4,367.9M350.5,387.5 356.4,379.7M360,363.2 365,359.2M365,359.2 365.1,358.1M365.1,358.1 358.4,349.7M367.9,401.9 368.9,396.6M368.9,396.6 367.7,394.6M367.7,394.6 360.3,393.2M359.6,391.7 361.9,384.8M361.9,384.8 357.5,379.8M367.7,394.6 372.4,386.5M372.4,386.5 372.3,385.8M372.3,385.8 369.5,382.8M369.5,382.8 361.9,384.8M374.8,335.1 375.7,339.2M375.7,339.2 382.7,343.9M382.7,343.9 388.2,342.3M388.2,342.3 392,335.1M369.5,382.8 369.3,379.3M369.3,379.3 364,373.9M365.1,358.1 372,351.6M372,351.6 370.4,346.5M370.4,346.5 360.5,343.7M363.9,372.9 372,367.4M372,367.4 372.2,365M372.2,365 365,359.2M368.9,396.6 375.9,397.9M375.9,397.9 379.5,394.1M379.5,394.1 379.4,392.4M379.4,392.4 372.4,386.5M372.2,365 380.5,360.5M380.5,360.5 381.1,356M381.1,356 380,354.3M380,354.3 372,351.6M370.4,346.5 375.7,339.2M369.3,379.3 375.7,373.4M375.7,373.4 372,367.4M372.3,385.8 379.9,381.8M379.9,381.8 378.2,374.1M378.2,374.1 375.7,373.4M378.2,374.1 386.3,370M386.3,370 386.1,367.8M386.1,367.8 380.5,360.5M380,354.3 382.7,343.9M377,401.6 375.9,397.9M385.6,398.2 379.5,394.1M379.4,392.4 383.9,388.5M383.9,388.5 382.3,382.7M382.3,382.7 379.9,381.8M386.1,367.8 395.2,360.6M395.2,360.6 389.8,354.4M389.8,354.4 381.1,356M389.8,354.4 392.5,349M392.5,349 388.2,342.3M382.3,382.7 388.4,379.5M388.4,379.5 386.5,370.2M399.4,401.8 399.6,400.8M399.6,400.8 397.1,397.9M397.1,397.9 396,397.7M396,397.7 394.4,398M394.4,398 392.5,399.2M386.7,397.8 387,389.4M387,389.4 383.9,388.5M388.5,397.7 391.6,393.5M391.6,393.5 391.5,391.6M391.5,391.6 389,388.9M389,388.9 387,389.4M404,328.1 413,326.6M413,326.6 414,321.4M389,388.9 390.4,386.6M390.4,386.6 389.5,380.2M389.5,380.2 388.4,379.5M392.5,349 397.8,348.7M397.8,348.7 400.7,342M400.7,342 392,335.1M389.5,380.2 397.2,379.4M397.2,379.4 399.6,376.5M399.6,376.5 400.1,372.5M400.1,372.5 386.5,370.2M400.1,372.5 400.5,372M400.5,372 396.1,360.7M396.1,360.7 395.2,360.6M394.4,398 393.3,394.4M393.3,394.4 391.6,393.5M391.5,391.6 393.7,391.1M393.7,391.1 395.7,389.1M395.7,389.1 394.3,386.7M394.3,386.7 390.4,386.6M397.2,379.4 397.6,382.7M397.6,382.7 400.8,386.9M400.8,386.9 401.6,386.9M401.6,386.9 407.3,382.6M407.3,382.6 399.6,376.5M394.3,386.7 397.6,382.7M396,397.7 395.6,393.9M395.6,393.9 393.3,394.4M393.7,391.1 396,393.3M396,393.3 397.3,392.9M397.3,392.8 396.2,389.2M396.2,389.2 395.7,389.1M395.6,393.9 396,393.3M396.2,389.2 399.8,388.3M399.8,388.3 400.8,386.9M396.1,360.7 400.6,357.9M400.6,357.9 401.6,352.7M401.6,352.7 397.8,348.7M397.1,397.9 398.7,395.2M398.7,395.2 397.3,392.9M407,405 408.4,398.9M408.4,398.9 403,398.7M403,398.7 399.6,400.8M403,398.7 401.3,395.2M401,395 398.7,395.2M399.9,391.4 399.8,388.3M397.3,392.8 399.9,391.4M399.9,391.4 404.2,392.1M404.2,392.1 405.5,391.5M405.5,391.5 401.6,386.9M401,395 399.9,391.4M401.3,395.2 404.2,392.1M401.6,352.7 408.5,350.2M408.5,350.2 409.3,346.4M409.3,346.4 402,341.8M402,341.8 400.7,342M406.5,335.2 403.2,329.6M402,341.8 406.5,335.2M406.5,335.2 412.1,336.9M412.1,336.9 417.4,334.3M417.4,334.3 417.5,332.3M417.5,332.3 413,326.6M408.5,398.9 408.5,392.2M408.5,392.2 405.5,391.5M407.3,382.6 408.8,382.8M408.8,382.8 411.5,381M411.5,381 409.6,371.9M409.6,371.9 404.9,370.4M404.9,370.4 400.5,372M408.5,392.2 409.6,390.8M409.6,390.8 408.8,382.8M404.9,370.4 406.9,361.5M406.9,361.5 400.6,357.9M409.3,346.4 410.7,345.3M410.7,345.3 412.1,336.9M406.9,361.5 410.8,360.1M410.8,360.1 412.3,354.9M412.3,354.9 408.5,350.2M417.4,400.7 408.5,398.9M409.6,390.8 418.2,390.8M418.2,390.8 419.3,388.6M419.3,388.6 418.2,382.2M418.2,382.2 417.4,381.5M417.4,381.5 411.5,381M412.3,354.9 418.4,353.5M418.4,353.5 421.4,348.3M421.4,348.3 421.3,347.5M421.3,347.5 420.3,346.4M420.3,346.4 410.7,345.3M419.9,398.2 418.2,390.8M409.6,371.9 415.5,369.5M415.5,369.5 415.2,363.9M415.2,363.9 410.8,360.1M417.5,332.3 425.2,324.9M425.2,324.9 417.6,319.2M418.4,315.1 423,312.6M423,312.6 423,304M417.4,381.5 419.1,371.6M419.1,371.6 415.5,369.5M415.2,363.9 422,360.2M422,360.2 418.4,353.5M429.9,391.5 429.4,388.5M429.4,388.5 419.3,388.6M425.2,324.9 425.9,324.8M425.9,324.8 428.2,322M428.2,322 427.8,314.8M427.8,314.8 423,312.6M441.7,274 444.8,273.7M444.8,273.7 448.5,267.4M448.5,267.4 444.3,258.4M418.2,382.2 426.5,380M426.5,380 426.2,372.5M426.2,372.5 423.3,370.9M423.3,370.9 419.1,371.6M429.4,388.5 431.8,383.9M431.8,383.9 426.5,380M423.3,370.9 425,361.2M425,361.2 422,360.2M420.3,346.4 418.8,335.7M418.8,335.7 417.4,334.3M425,361.2 427.8,360.2M427.8,360.2 430.3,353.7M430.3,353.7 421.4,348.3M418.8,335.7 427.6,336.8M427.6,336.8 429.4,329.5M429.4,329.5 425.9,324.8M421.3,347.5 430.4,341M430.4,341 430.4,340.2M430.4,340.2 427.6,336.8M425.7,302.2 433.1,307.2M433.1,307.2 438.2,300.8M438.2,300.8 436.5,297.5M426.2,372.5 432.1,371M432.1,371 434.4,365.5M434.4,365.5 427.8,360.2M429.4,329.5 437,330.2M437,330.2 438.4,328.5M438.4,328.5 435.7,321.5M435.7,321.5 428.2,322M430.3,353.7 432.1,352.8M432.1,352.8 434.5,347M434.5,347 430.4,341M440.5,389.7 439,385M439,385 433.9,383.2M433.9,383.2 431.8,383.9M433.9,383.2 435.5,375.5M435.5,375.5 432.1,371M434.1,310.7 433.1,307.2M427.8,314.8 433.9,311M434.1,310.7 444.8,310M444.8,310 445,309.4M445,309.4 441.9,301.9M441.9,301.9 438.2,300.8M434.4,365.5 439.4,364M439.4,364 440.8,362.4M440.8,362.4 441.3,358M441.3,358 432.1,352.8M430.4,340.2 437.2,336M437.2,336 437,330.2M434.5,347 442.5,345.7M442.5,345.7 443,339.6M443,339.6 437.2,336M435.5,375.5 443,373.7M443,373.7 439.4,364M435.7,321.5 437.3,319.1M437.3,319.1 433.9,311M443,339.6 447.7,336.1M447.7,336.1 445.9,328.4M445.9,328.4 444.8,327.7M444.8,327.7 438.4,328.5M437.3,319.1 444.1,318.4M444.1,318.4 446.6,315.5M446.6,315.5 444.8,310M450.8,386.1 443.8,382.1M443.8,382.1 439,385M443.8,382.1 445.3,374.9M445.3,374.9 443,373.7M444.8,327.7 444.1,318.4M441.3,358 445.4,353.7M445.4,353.7 445.1,348.7M445.1,348.7 442.5,345.7M445.3,374.9 446.1,374.7M446.1,374.7 450.4,365.8M450.4,365.8 440.8,362.4M441.9,301.9 447.8,296.6M447.8,296.6 447.5,295.2M447.5,295.2 441.1,292.2M445,309.4 452,305.1M452,305.1 452.7,300.4M452.7,300.4 447.8,296.6M445.1,348.7 453.4,345.3M453.4,345.3 454.2,341.4M454.2,341.4 451.7,337.2M451.7,337.2 447.7,336.1M447.5,295.2 450.7,288.9M450.7,288.9 448.7,285.4M448.7,285.4 440.6,285.4M445.9,328.4 454.2,325.2M454.2,325.2 450.7,316.7M450.7,316.7 446.6,315.5M450.4,365.8 451.9,365.3M451.9,365.3 453.6,357.3M453.6,357.3 445.4,353.7M450.7,316.7 457.4,313.1M457.4,313.1 457.8,311.6M457.8,311.6 457.4,310M457.4,310 452,305.1M448.5,267.4 458.3,266.2M458.3,266.2 453.8,255.6M448.7,285.4 451,278.3M451,278.3 444.8,273.7M452.7,300.4 457.3,298.6M457.3,298.6 460.8,293M460.8,293 459.9,289.6M459.9,289.6 450.7,288.9M451,278.3 457.4,277.2M457.4,277.2 458.3,266.2M454.4,377.3 446.1,374.7M453.6,357.3 454.3,356.9M454.3,356.9 457.7,350.2M457.6,349.9 453.4,345.3M451.7,337.2 457,331.7M457,331.7 454.8,325.4M454.8,325.4 454.2,325.2M459.9,359.1 454.3,356.9M451.9,365.3 456.4,368.2M458.3,266.2 466.4,264.6M466.4,264.6 468.4,261.5M457.4,310 461.8,304.1M461.8,304 457.3,298.6M459.9,289.6 461.6,285.5M461.6,285.5 460.6,279.7M460.6,279.7 457.4,277.2M454.8,325.4 459,323.3M459,323.3 459.6,322.8M459.6,322.8 459.3,315.4M459.3,315.4 457.4,313.1M454.2,341.4 460.5,340.2M460.5,340.2 461.6,338.8M461.6,338.8 461.5,335.5M461.5,335.5 458.3,332.2M458.3,332.2 457,331.7M460.6,279.7 471,274.5M471,274.5 471,274M471,274 466.4,264.6M457.6,349.9 462.3,345M462.3,345 460.5,340.2M457.8,311.6 465.2,310.4M465.2,310.4 466.3,307.8M466.3,307.8 461.8,304.1M459.3,315.4 466.7,316.7M466.7,316.7 467.6,316.1M467.6,316.1 467.8,315.3M467.8,315.3 465.2,310.4M461.8,304 466.4,300.7M466.4,300.7 465.3,295.1M465.3,295.1 460.8,293M462.2,351.8 457.7,350.2M486.2,302.5 485.7,302.2M485.7,302.2 480.6,303.6M480.6,303.6 479.7,305.1M479.7,305.1 483.4,307.8M458.3,332.2 462.1,329.7M462.1,329.7 462.3,327.9M462.3,327.9 459,323.3M461.5,335.5 463.2,334.7M463.2,334.7 464.5,331.3M464.5,331.3 464.2,330.2M464.2,330.2 462.1,329.7M464,345.4 462.3,345M459.6,322.8 462,322.7M462,322.7 465.4,321.3M465.4,321.3 466.7,316.7M462.3,327.9 464.2,327.1M464.2,327.1 464.3,326.4M464.3,326.4 462,322.7M492.7,256 495.1,259.8M495.1,259.8 497.3,259.8M465.3,295.1 471,293.9M471,293.9 473.8,288.3M473.8,288.3 473.4,287.4M473.4,287.4 472.2,286.2M472.2,286.2 461.6,285.5M465.8,321.7 466,326M466,326 467.2,326.8M467.2,326.8 467.9,326.5M467.9,326.5 469,323.4M469,323.4 465.8,321.7M465.8,321.7 465.4,321.3M464.3,326.4 466,326M466.3,307.8 468.5,306.9M468.5,306.9 468.6,302.1M468.6,302.1 466.4,300.7M465.8,339.6 461.6,338.8M464.2,330.2 465.1,329.3M465.1,329.3 465.2,328.6M465.2,328.6 464.2,327.1M465.2,328.6 467.1,327.1M472.2,286.2 472.3,275.9M472.3,275.9 471,274.5M469,323.4 471.8,323.2M473.2,319.9 467.6,316.1M467.7,335.9 465.9,334.6M465.9,334.6 463.2,334.7M468.9,332.6 466.9,332M466.9,332.1 465.9,334.6M464.5,331.3 466.9,332.1M466.9,332 467.3,330M467.3,330 465.1,329.3M467.8,315.3 472.8,311.7M472.8,311.7 472,308.4M472,308.4 468.5,306.9M467.3,330 467.8,329.6M467.8,329.6 467.1,327.1M467.8,329.6 469.6,329.7M470.1,327.7 467.9,326.5M468.6,302.1 473.1,300.5M473.1,300.5 473.8,298.2M473.8,298.2 471,293.9M479.7,305.1 479.2,305.4M479.2,305.4 478.2,313.9M473.8,298.2 478.3,297.5M478.3,297.5 478.9,292.1M478.9,292.1 476.3,289.2M476.3,289.2 473.8,288.3M471,274 478.4,268.2M478.4,268.2 478.7,266M478.7,266 472.1,261.3M472,308.4 475.4,304.8M475.4,304.8 473.1,300.5M477.7,314.2 472.8,311.7M473.4,287.4 480,281.6M480,281.6 474.6,276.4M474.6,276.4 472.3,275.9M475.4,304.8 479.2,305.4M480.6,303.6 479.7,298.3M479.7,298.3 478.3,297.5M478.4,268.2 482,271.9M482,271.9 486.4,269.8M486.4,269.8 482.5,263.7M482.5,263.7 478.7,266M474.6,276.4 481.4,274.6M481.4,274.6 482,271.9M476.3,289.2 482.8,286.4M482.8,286.4 481.8,281.8M481.8,281.8 480,281.6M481.8,281.8 482.8,280.9M482.8,280.9 483.5,277M483.5,277 481.4,274.6M480.4,258 483.2,262.4M483.2,262.4 486.9,261.3M486.9,261.3 488.2,256.7M482.5,263.7 483.2,262.4M478.9,292.1 483.2,292.4M483.2,292.4 485,289.4M485,289.4 484.7,287.7M484.7,287.7 482.8,286.4M479.7,298.3 484.5,296.7M484.7,296.4 483.2,292.4M483.5,277 487.5,276M487.5,276 486.9,269.9M486.9,269.9 486.4,269.8M485.7,302.2 484.5,296.7M488.8,295.7 484.7,296.4M489.6,291.7 485,289.4M484.7,287.7 488.5,285.2M488.5,285.2 488.4,282.1M488.4,282.1 482.8,280.9M486.9,269.9 489,269.1M489,269.1 490.9,264.2M490.9,264.2 486.9,261.3M490.8,286.6 488.5,285.2M488.4,282.1 488.8,281.6M488.8,281.6 488.5,276.5M488.5,276.5 487.5,276M492.4,281.2 488.8,281.6M490.9,264.2 492.5,263.7M492.5,263.7 495.1,259.8M488.5,276.5 491.8,275.7M491.8,275.7 492,271.2M492,271.2 489,269.1M492,271.2 495.5,270.4M496.3,266.8 492.5,263.7M493.7,276.8 491.8,275.7" fill="none" stroke="#8f8f8f" stroke-width="0.7"/>
<path d="M488.3,258.5 487.4,256.5M487.4,256.5 484.2,257M484.2,252.9 486.4,252M486.4,252 486.6,251.5M486.6,251.5 484.7,247.9M486,243.3 487.4,243.3M487.4,243.3 488.5,241.8M488.5,241.8 487.9,239.5M487.9,239.5 485.7,238.4M485.8,226.1 486.9,224.5M486.9,224.5 485.8,222.1M484.5,226.1 485.8,226.1M485.8,226.1 487.6,229.3M487.6,229.3 488.3,229.7M488.3,229.7 488.9,229.4M488.9,229.4 490.3,225.7M490.3,225.7 489.3,224.4M489.3,224.4 486.9,224.5M484.9,230 487.6,229.3M489.3,224.4 490.1,222.1M485.3,235 488.3,233.3M488.3,233.3 488.3,229.7M487.9,239.5 490.1,238.1M490.1,238.1 490.1,234.4M490.1,234.4 488.3,233.3M487.4,256.5 488.4,254.9M488.4,254.9 486.4,252M488.4,254.9 491.7,254.5M491.7,254.5 492.6,252.5M492.6,252.5 490.4,249.4M490.4,249.4 486.6,251.5M484.8,247.5 488.1,246.5M488.1,246.5 487.4,243.3M488.1,246.5 490.5,247.6M490.5,247.6 491.5,246.7M491.5,246.7 491.5,242.8M491.5,242.8 488.5,241.8M490.4,249.4 490.5,247.6M492.4,255.8 491.7,254.5M490.1,234.4 492.5,234M492,229.7 488.9,229.4M491.5,242.8 492.3,242.2M492.3,242.2 492.7,239M492.7,239 490.1,238.1M492.6,252.5 493.3,252.3M493.3,252.3 495.9,249.4M495.4,246.7 491.5,246.7M497.1,253.8 493.3,252.3M492.7,239 493.6,238.5M491.6,225.7 490.3,225.7M492.3,242.2 494.7,242.8" fill="none" stroke="#8f8f8f" stroke-width="0.7"/>
<path d="M256.1,309.7 255.5,302M259.8,313.8 265.7,311.5M265.7,311.5 267.6,307.6M266.2,321.9 269.2,318.6M269.2,318.6 265.7,311.5M308.6,308.5 311.3,309.9M311.3,309.9 315.6,309.3M315.6,309.3 317.1,307.8M274.5,337.9 279,331.8M279,331.8 277.8,327.4M277.8,327.4 276.8,326.7M276.8,326.7 270.4,328.3M269.2,318.6 274.6,319.4M274.6,319.4 278.5,314.6M276.8,326.7 274.6,319.4M277.8,327.4 286.1,322.9M286.1,322.9 281.8,313.8M305.5,312.7 308.1,309.1M284.5,342.1 276.1,341.7M302.8,349 298.9,344.9M286.1,322.9 287.4,323.3M287.4,323.3 291.6,319.7M287.7,335.8 279,331.8M291.9,330.6 287.4,323.3M298,324.2 296.3,320.6M316.2,355.9 315.5,352.5M315.5,352.5 313.6,351.5M331.8,378.4 335.6,376.9M335.6,376.9 333.9,372.6M333.9,372.6 330.4,372M301.5,336.7 307.8,332.4M307.8,332.4 308,331.8M308,331.8 306.6,328.9M306.6,328.9 304.8,328M307.1,340.5 301.5,336.7M309.5,335.3 307.8,332.4M306.6,328.9 311.2,323.9M311.2,323.9 306.5,321M311.2,323.9 312.1,323.8M312.1,323.8 313.2,318.1M313.2,318.1 311,316.3M311,316.3 306.8,317.7M311,316.3 311.3,309.9M314.1,344.1 315,343.3M315,343.3 315.2,340.8M315.2,340.8 313.7,341M308,331.8 310.8,331.2M311,331.1 314.1,330.5M314.1,330.5 314.1,325.1M314.1,325.1 312.1,323.8M313.2,318.1 317.4,317.2M317.4,317.2 318.2,315.6M318.2,315.6 315.6,309.3M314.1,325.1 318.7,324.1M318.7,324.1 319.6,321.8M319.6,321.8 317.4,317.2M312.6,336.6 315.4,335.8M315.4,335.8 316.5,332.8M316.5,332.8 314.1,330.5M334.2,383.7 337.7,382.7M337.7,382.7 336.7,377.4M336.7,377.4 335.6,376.9M318.6,349.9 316.3,346.4M316.2,346.4 314.1,347.4M315.5,352.5 318.6,349.9M318.6,349.9 321.8,349.4M321.8,349.4 323,345.7M323,345.7 320.6,344.6M320.6,344.6 316.4,346.2M315.2,340.8 317.3,339.3M317.3,339.3 315.4,335.8M316.5,332.8 319.9,331.9M319.9,331.9 320.7,326.7M320.7,326.7 318.7,324.1M314.1,344.3 316.2,346.4M316.4,346.2 316.7,343.8M316.7,343.8 315,343.3M316.7,343.8 318.4,342.6M318.4,342.6 317.7,339.5M317.7,339.5 317.3,339.3M318.2,315.6 324.8,314.5M322,357.4 323.5,352.1M323.5,352.1 321.8,349.4M320.6,344.6 318.4,342.6M317.7,339.5 323.7,338.3M323.7,338.3 323.4,334M323.4,334 319.9,331.9M319.6,321.8 324.8,320.1M323,345.7 323.8,345M323.8,345 323.9,338.6M327.3,365.1 329,360M329,360 328,358.6M328,358.6 322.2,357.7M323.5,352.1 330.2,352.1M330.2,352.1 331,351.6M331,351.6 328.9,345.8M328.9,345.8 323.8,345M320.7,326.7 324.8,326.3M323.9,338.6 329.3,339M329.3,339 332.1,335.1M328.1,331 323.4,334M333.3,335.2 337,340.1M337,340.1 340.3,337.6M328.9,345.8 331.1,343.1M331.1,343.1 329.3,339M328,358.6 330.2,352.1M329,360 332.9,360.3M332.9,360.3 335.3,356M335.3,356 331.2,351.6M331.2,351.6 337.3,348M337.3,348 337.9,344.6M337.9,344.6 336.6,342.9M336.6,342.9 331.1,343.1M328.4,367.2 336.3,365.4M336.4,365.2 332.9,360.3M333.9,372.6 336.6,368.9M336.6,368.9 336.3,365.4M337,389 339.2,386.9M339.2,386.9 339.1,383.7M339.1,383.7 337.7,382.7M336.7,377.4 340.4,375.6M340.4,375.6 340.9,372.2M340.9,372.2 336.6,368.9M336.6,342.9 337,340.1M336.4,365.2 336.9,365M336.9,365 340.2,358.5M340.2,358.5 338.9,356M338.9,356 335.3,356M338.9,356 340.9,352.4M340.9,352.4 337.3,348M340.9,372.2 344,370.4M343.9,365.7 336.9,365M344.1,390.5 339.2,386.9M339.1,383.7 344,382M344,377.8 340.4,375.6M337.9,344.6 343.8,344.2M343.9,359.6 340.2,358.5M340.9,352.4 343.9,351.9" fill="none" stroke="#8f8f8f" stroke-width="0.7"/>
<polygon points="43.7,263.5 49.5,260.2 53.6,262.7 54.4,270.9 49.5,273.4 41.2,273.4 39.6,275 28.9,275 28.9,271.7 37.9,270.9 41.2,266.8" fill="#67a9cf" stroke="#8f8f8f" stroke-width="0.7" stroke-linejoin="round"/>
<polygon points="32.2,261.8 36.3,261.8 36.6,266.8 32.2,266.8" fill="#67a9cf" stroke="#8f8f8f" stroke-width="0.7" stroke-linejoin="round"/>
<polygon points="43.7,312.5 46.5,312 47.8,318 44.2,318.7" fill="#fddbc7" stroke="#8f8f8f" stroke-width="0.7" stroke-linejoin="round"/>
<polygon points="65.5,293 68.5,291.5 72,299 66.5,300" fill="#f7f7f7" stroke="#8f8f8f" stroke-width="0.7" stroke-linejoin="round"/>
<polygon points="37.1,318.7 42,318.7 42,323 37.1,323" fill="#f7f7f7" stroke="#8f8f8f" stroke-width="0.7" stroke-linejoin="round"/>
<polygon points="38.5,326 43,326 43,331 38.5,331" fill="#f7f7f7" stroke="#8f8f8f" stroke-width="0.7" stroke-linejoin="round"/>
<polygon points="52.8,317.1 58.5,317.1 58.5,320.4 52.8,320.4" fill="#f7f7f7" stroke="#8f8f8f" stroke-width="0.7" stroke-linejoin="round"/>
<polygon points="368.4,47.8 372,46.5 375,54.4 374,58 370,56 368,51" fill="#f7f7f7" stroke="#8f8f8f" stroke-width="0.7" stroke-linejoin="round"/>
<polygon points="311.5,342 315,343 316,350 313.4,352.7 314.2,346" fill="#d1e5f0" stroke="#8f8f8f" stroke-width="0.7" stroke-linejoin="round"/>
<polygon points="394.9,90 399,90 399,96.5 398.1,97.4 394.9,94.6" fill="#f7f7f7" stroke="#8f8f8f" stroke-width="0.7" stroke-linejoin="round"/>
<polygon points="401.4,109.5 406.5,109.5 406.9,116 408.8,120.6 406,121 402.3,121.6 401,115" fill="#f7f7f7" stroke="#8f8f8f" stroke-width="0.7" stroke-linejoin="round"/>
<polygon points="466.8,223.7 472.5,220.4 482.4,218.7 489.9,219.6 490.7,223.7 485.7,227.8 484.9,234.4 485.7,243.5 482.4,245.1 480,239.4 480,231.1 474.2,231.9 470.9,228.6" fill="#67a9cf" stroke="#8f8f8f" stroke-width="0.7" stroke-linejoin="round"/>
<polygon points="478.3,240.2 484.1,240.2 481.6,246" fill="#2166ac" stroke="#8f8f8f" stroke-width="0.7" stroke-linejoin="round"/>
<polygon points="472.5,249.3 481.6,246.8 484.1,252.5 484.2,261.6 480.6,267.4 474.8,266.5 471.5,261.6 475,260 475.8,254.2" fill="#67a9cf" stroke="#8f8f8f" stroke-width="0.7" stroke-linejoin="round"/>
<polygon points="488.2,223.7 490.7,223.7 490.7,227 488.2,227" fill="#f7f7f7" stroke="#8f8f8f" stroke-width="0.7" stroke-linejoin="round"/>
<polygon points="249.9,301.5 261.4,302.4 265.6,306.5 261.4,310.6 256.5,307.3 249.9,305.7" fill="#d1e5f0" stroke="#8f8f8f" stroke-width="0.7" stroke-linejoin="round"/>
<polygon points="270.5,316.4 273.8,313.9 282,320.5 282,331.2 275.4,332 269.7,323" fill="#d1e5f0" stroke="#8f8f8f" stroke-width="0.7" stroke-linejoin="round"/>
<polygon points="329.9,342.8 336.5,342.8 336.5,352.7 329.9,352.7" fill="#f7f7f7" stroke="#8f8f8f" stroke-width="0.7" stroke-linejoin="round"/>
<polygon points="333,372 344,372 344,382 335,383" fill="#fddbc7" stroke="#8f8f8f" stroke-width="0.7" stroke-linejoin="round"/>
<polygon points="422.4,375.3 429.9,372.8 438.9,377.8 452.1,385.2 448.8,388.5 438.9,390.1 429,391.8 422.4,394.2 420,387.7 422.4,382.7" fill="#d1e5f0" stroke="#8f8f8f" stroke-width="0.7" stroke-linejoin="round"/>
<polygon points="456.7,280.6 464.1,279.7 467.4,286.3 470.7,294.6 469.9,298.7 465.7,297 461.6,290.4 459.1,285.5" fill="#67a9cf" stroke="#8f8f8f" stroke-width="0.7" stroke-linejoin="round"/>
<polygon points="480.6,293.7 487.2,292.9 488.8,297 484.7,299.5 480.6,297.9" fill="#f7f7f7" stroke="#8f8f8f" stroke-width="0.7" stroke-linejoin="round"/>
<polygon points="453,319 456.5,317.8 460,319.5 460.4,324 458.5,327.9 454,327 452.5,323" fill="#f7f7f7" stroke="#8f8f8f" stroke-width="0.7" stroke-linejoin="round"/>
<polygon points="461,321 464.5,320.4 465.9,325 465,330.2 461.5,330.6 460.6,326" fill="#f7f7f7" stroke="#8f8f8f" stroke-width="0.7" stroke-linejoin="round"/>
<polygon points="383.7,345.6 399.4,345.6 400.2,351.4 397.7,358 389.5,353" fill="#fddbc7" stroke="#8f8f8f" stroke-width="0.7" stroke-linejoin="round"/>
<polygon points="410.1,335.7 414.2,336.5 415.8,343.1 412.5,347.3 408.4,345.6 410.1,340.7" fill="#fddbc7" stroke="#8f8f8f" stroke-width="0.7" stroke-linejoin="round"/>
<polygon points="420,364.6 427.4,362.9 430.7,369.5 429.9,372.8 424.1,374.5 420,372.8" fill="#fddbc7" stroke="#8f8f8f" stroke-width="0.7" stroke-linejoin="round"/>
<polygon points="413.4,370.3 420,369.5 420.8,379.4 415.8,381.1 413.4,376.1" fill="#d1e5f0" stroke="#8f8f8f" stroke-width="0.7" stroke-linejoin="round"/>
<polyline points="198.3,295.7 198.3,299.5" fill="none" stroke="#8f8f8f" stroke-width="0.7"/>
<polyline points="198.5,220.7 344.2,220.7 344.2,394.5" fill="none" stroke="#8f8f8f" stroke-width="0.7"/>
<polyline points="344.2,261.6 441,261.6 446,256.6 452.5,255 470,262 480,258 492,256 497.9,255" fill="none" stroke="#8f8f8f" stroke-width="0.7"/>
<polyline points="147.5,186.1 147.5,230.5" fill="none" stroke="#8f8f8f" stroke-width="0.7"/>
<polyline points="198.5,230.5 124,229.7 112.1,231.3 109.6,235.4 109.6,243.2" fill="none" stroke="#8f8f8f" stroke-width="0.7"/>
<polyline points="120,263.2 198.5,263.2" fill="none" stroke="#8f8f8f" stroke-width="0.7"/>
<polyline points="100,279.5 198.5,279.5" fill="none" stroke="#8f8f8f" stroke-width="0.7"/>
<polyline points="132.2,130 131,138.5 162.5,135.5 162.5,157.5 198.5,157.5" fill="none" stroke="#8f8f8f" stroke-width="0.7"/>
<polyline points="89.9,141.5 102.2,139.1 124,138.2 131,138.5" fill="none" stroke="#8f8f8f" stroke-width="0.7"/>
<polyline points="126.4,106.1 127.2,116 131.3,124.2 132.2,130" fill="none" stroke="#8f8f8f" stroke-width="0.7"/>
<polyline points="175.8,107.7 166,110.2 167.6,116 162.7,120.9 166,130 162.5,135.5" fill="none" stroke="#8f8f8f" stroke-width="0.7"/>
<polyline points="100.6,186.1 100.6,189.4 94,194.3 90.7,200.9 91,209.9 89.9,218.1 85.7,226.4 80.8,233 79.1,238.7" fill="none" stroke="#8f8f8f" stroke-width="0.7"/>
<polyline points="72.5,238.7 89.9,238.7" fill="none" stroke="#8f8f8f" stroke-width="0.7"/>
<polyline points="70.9,266 82.4,265.1 85.7,263.5 97.3,263.5 98.9,261" fill="none" stroke="#8f8f8f" stroke-width="0.7"/>
<polyline points="72.5,238.7 73.4,249.5 70.9,254.4 70.9,263.5" fill="none" stroke="#8f8f8f" stroke-width="0.7"/>
<polyline points="56.1,242.5 61,243.2" fill="none" stroke="#8f8f8f" stroke-width="0.7"/>
<polyline points="89.9,278 118.7,278 118.7,302 89.9,302" fill="none" stroke="#8f8f8f" stroke-width="0.7"/>
<polyline points="89.9,307.2 120,312.2 131.5,312.2 131.5,317.6 140.6,317.6" fill="none" stroke="#8f8f8f" stroke-width="0.7"/>
<polyline points="198.5,181 233,181 236.7,179 240.5,181 258,181 260.5,188.5 268,187 275.5,186 284,196 293,193.5 308.2,192.7" fill="none" stroke="#8f8f8f" stroke-width="0.7"/>
<polyline points="215.7,59.6 216.5,74.4 206.6,75.2" fill="none" stroke="#8f8f8f" stroke-width="0.7"/>
<polyline points="224.7,57.1 226.4,66.2 229.7,67 230.5,59.6" fill="none" stroke="#8f8f8f" stroke-width="0.7"/>
<polyline points="235.4,62 234.6,69.5 231.3,71.1 232.2,76.1 236.3,76.9 236.3,90.9 240.4,91.7 240.4,107.5 235.5,110 234.8,120.9" fill="none" stroke="#8f8f8f" stroke-width="0.7"/>
<polyline points="239.6,69.5 243.7,71.1 242.9,78.5 236.3,78.5" fill="none" stroke="#8f8f8f" stroke-width="0.7"/>
<polyline points="240.4,98.7 248,102.5 263,101 270.5,97.5 273,102.5 280.5,102.5 284,108.7 308.2,110" fill="none" stroke="#8f8f8f" stroke-width="0.7"/>
<polyline points="360.2,110.6 369.2,109.7 379.1,111.4 385.7,114.7 389.9,120.4" fill="none" stroke="#8f8f8f" stroke-width="0.7"/>
<polyline points="344.5,132 343.7,141.1 344.5,151 342,157.5 342.9,165 344.5,169.9" fill="none" stroke="#8f8f8f" stroke-width="0.7"/>
<polyline points="363.5,136.9 361.8,142.7 361,151 358.5,157.5 356.9,165 352,170 346.2,174.9" fill="none" stroke="#8f8f8f" stroke-width="0.7"/>
<polyline points="376.7,136.1 377.5,142.7 375,149.3 372.5,155.9 370.9,160.8 366,162.5 357.7,161.7" fill="none" stroke="#8f8f8f" stroke-width="0.7"/>
<polyline points="385.7,134.5 389,141.1 392.3,147.7 395.6,154.3 397.3,160.8 398.9,165" fill="none" stroke="#8f8f8f" stroke-width="0.7"/>
<polyline points="370.9,160.8 377.5,161.7 385.7,163.3 392.3,165 398.9,165" fill="none" stroke="#8f8f8f" stroke-width="0.7"/>
<polyline points="389,126.2 395.6,123.7 402.3,121.6" fill="none" stroke="#8f8f8f" stroke-width="0.7"/>
<polyline points="389,126.2 385.7,134.5 376.7,136.1 372.5,136.9" fill="none" stroke="#8f8f8f" stroke-width="0.7"/>
<polyline points="400,122.4 406.6,128.1 411.5,134.7 416.5,139.7 419.8,141.3 416.5,149.6 414.8,157.8 408.2,162.8 405.8,167.7" fill="none" stroke="#8f8f8f" stroke-width="0.7"/>
<polyline points="414.8,157.8 424.7,162.8 428,156.2 432.2,152.9" fill="none" stroke="#8f8f8f" stroke-width="0.7"/>
<polyline points="413.8,137.8 415.4,142.7 418.7,151" fill="none" stroke="#8f8f8f" stroke-width="0.7"/>
<polyline points="308.2,111.4 310.7,118 311.5,124.6 321.4,124.6 323.1,129.5 326.4,132.8 331.3,134.5" fill="none" stroke="#8f8f8f" stroke-width="0.7"/>
<polyline points="314.8,109.7 319,109.7 319,115.5 314.8,115.5 314.8,109.7" fill="none" stroke="#8f8f8f" stroke-width="0.7"/>
<polyline points="329.7,112.2 330.5,122.9 329.7,129.5 332.2,134.5" fill="none" stroke="#8f8f8f" stroke-width="0.7"/>
<polyline points="349.5,109.7 356.1,108.1 360.2,110.6" fill="none" stroke="#8f8f8f" stroke-width="0.7"/>
<polyline points="349.5,109.7 347,116.3 349.5,122.9 352.8,127.9 358.5,128.7 363.5,133.6" fill="none" stroke="#8f8f8f" stroke-width="0.7"/>
<polyline points="348,100 349.5,109.7" fill="none" stroke="#8f8f8f" stroke-width="0.7"/>
<polyline points="308.2,155.9 312.4,154.3 316.5,157.5 324.7,160.8" fill="none" stroke="#8f8f8f" stroke-width="0.7"/>
<polyline points="352.8,80 358,81 362,88 364.3,92.4" fill="none" stroke="#8f8f8f" stroke-width="0.7"/>
<polyline points="354.4,44.5 357,47 356,55 357,62 355.2,70" fill="none" stroke="#8f8f8f" stroke-width="0.7"/>
<polyline points="352.8,80 358,81 362,88 364.3,92.4" fill="none" stroke="#8f8f8f" stroke-width="0.7"/>
<polyline points="344.2,220.7 342.9,214.5 343.7,204.6 349.5,200.4 354.4,199.6 357.7,193 360.2,188.9 366,189.7 368.4,183.1 372.5,179 377.5,174.9" fill="none" stroke="#8f8f8f" stroke-width="0.7"/>
<polyline points="346.2,183.1 352.8,188.1 360.2,188.9" fill="none" stroke="#8f8f8f" stroke-width="0.7"/>
<polyline points="366,189.7 369.2,195.5 375,198 377.5,196.3 376.7,202.9 374.2,206.2 379.1,207.9 385.7,208.7 389.9,204.6" fill="none" stroke="#8f8f8f" stroke-width="0.7"/>
<polyline points="352.8,230.1 357.7,222.7 361,217.8 369.2,216.1 374.2,212.8 379.1,207.9" fill="none" stroke="#8f8f8f" stroke-width="0.7"/>
<polyline points="391.5,189.7 397.3,196.3 400,195.7" fill="none" stroke="#8f8f8f" stroke-width="0.7"/>
<polyline points="400,217.1 398.1,221.1" fill="none" stroke="#8f8f8f" stroke-width="0.7"/>
<polyline points="396.5,234.2 405.5,235.9 413.8,235.9 419,235.2" fill="none" stroke="#8f8f8f" stroke-width="0.7"/>
<polyline points="385.7,243.3 386.5,261.6" fill="none" stroke="#8f8f8f" stroke-width="0.7"/>
<polyline points="400,195.7 404.9,191.5 413.2,199.8 418.1,204.7 426.4,203.9 429.7,206.4 439.6,211.3" fill="none" stroke="#8f8f8f" stroke-width="0.7"/>
<polyline points="420.6,185 419.8,193.2 413.2,199.8" fill="none" stroke="#8f8f8f" stroke-width="0.7"/>
<polyline points="400,217.1 406.6,213 411.5,208 418.1,204.7" fill="none" stroke="#8f8f8f" stroke-width="0.7"/>
<polyline points="426.4,206.4 420.6,213 421.4,222.9 419,234.4 419.8,246 416.5,261.6" fill="none" stroke="#8f8f8f" stroke-width="0.7"/>
<polyline points="439.6,211.3 443.7,219.6 445.3,226.2 449.5,229.5 448.6,241 447.8,249.3 441.2,250.9 441,261.6" fill="none" stroke="#8f8f8f" stroke-width="0.7"/>
<polyline points="419.8,246 426.4,243.5 439.6,242.7 448.6,244.3" fill="none" stroke="#8f8f8f" stroke-width="0.7"/>
<polyline points="443.7,219.6 454.4,218.7 459.4,217.1" fill="none" stroke="#8f8f8f" stroke-width="0.7"/>
<polyline points="439.6,211.3 441.2,206.4 445.3,203.1 449.5,196.5 454.4,191.5 451.1,184.9 449.5,180 448.6,171.8" fill="none" stroke="#8f8f8f" stroke-width="0.7"/>
<polyline points="454.4,191.5 461,193.2 466,199.8 472.5,204.7 477.5,211.3 480.8,214.6 482.4,218.7" fill="none" stroke="#8f8f8f" stroke-width="0.7"/>
<polyline points="459.4,217.1 458.5,209.7 461.8,201.4 466,199.8" fill="none" stroke="#8f8f8f" stroke-width="0.7"/>
<polyline points="459.4,217.1 466.8,223.7" fill="none" stroke="#8f8f8f" stroke-width="0.7"/>
<polyline points="472.5,234.4 466,239.4 462.7,246 456.1,247.6 448.6,249.3" fill="none" stroke="#8f8f8f" stroke-width="0.7"/>
<polyline points="462.7,246 472.5,249.3" fill="none" stroke="#8f8f8f" stroke-width="0.7"/>
<polyline points="449.5,229.5 459.4,227.8 466.8,223.7" fill="none" stroke="#8f8f8f" stroke-width="0.7"/>
<polyline points="461,193.2 463.5,187 467.6,188.2" fill="none" stroke="#8f8f8f" stroke-width="0.7"/>
<polyline points="472.5,204.7 476,199 480.8,201.4" fill="none" stroke="#8f8f8f" stroke-width="0.7"/>
<polyline points="409.7,261.6 410.5,271.5 411.3,280.6 409.7,288 411.3,296.2 409.7,304.5 414.6,309.4 413,317.7 408,321" fill="none" stroke="#8f8f8f" stroke-width="0.7"/>
<polyline points="423.7,261.6 422.9,271.5 421.2,279.7 419.6,284.7 424.5,288 423.7,294.6 429.5,299.5 432.8,302.8 424.5,306.1 423.7,311.1 424.5,321 429.5,324.3" fill="none" stroke="#8f8f8f" stroke-width="0.7"/>
<polyline points="383.3,294.6 389.9,289.6 399.8,288 409.7,288" fill="none" stroke="#8f8f8f" stroke-width="0.7"/>
<polyline points="409.7,304.5 399.8,311.1 394.8,316 392.4,316" fill="none" stroke="#8f8f8f" stroke-width="0.7"/>
<polyline points="399.8,311.1 401.4,317.7 408,321 406.4,327.5 396.5,325.9 388.2,327.5 386.6,321" fill="none" stroke="#8f8f8f" stroke-width="0.7"/>
<polyline points="427.8,282.2 432.8,279.7 437.7,286.3 440.2,288" fill="none" stroke="#8f8f8f" stroke-width="0.7"/>
<polyline points="424.5,288 431.1,290.4 435.2,294.6 434.4,297.9" fill="none" stroke="#8f8f8f" stroke-width="0.7"/>
<polyline points="344.2,281 359,281" fill="none" stroke="#8f8f8f" stroke-width="0.7"/>
<polyline points="344.2,317 360,317" fill="none" stroke="#8f8f8f" stroke-width="0.7"/>
<polyline points="360,317 362,330 356,338 344.2,340" fill="none" stroke="#8f8f8f" stroke-width="0.7"/>
<polyline points="362,330 372,333 380,330 386.6,321" fill="none" stroke="#8f8f8f" stroke-width="0.7"/>
<polyline points="372,333 374,342 368,350 360,352 356,338" fill="none" stroke="#8f8f8f" stroke-width="0.7"/>
<polyline points="249.9,301.5 261.4,302.4 265.6,306.5 268.9,308.1 270.5,313.1 279.6,314.7 282.9,313.1 288.6,317.2 292.8,320.5 299.4,320.5 303.5,317.2 302.7,309.8 308.4,309 308.4,300.7 316.7,300.7 317.5,311.4 324.9,312.3 324.9,330.4 329.9,331.2 332.3,335.3 337.3,334.5 340.6,337.8 343.9,338.6" fill="none" stroke="#8f8f8f" stroke-width="0.7"/>
<polygon points="390.5,431.4 392.2,435.5 397.9,438 404.5,441.3 411.1,442.9 417.7,440.4 424.3,438.8 430.9,436.3 433.4,441.3 433.4,451.2 432.5,461 430.9,467.7 429.2,475.9 425.3,473.5 421,477.5 416,482.5 409.5,484 404.5,479.2 400.4,472.6 397.1,464.4 394.6,457.8 392.2,451.2 388.9,442.9 388.9,436.3" fill="#f7f7f7" stroke="#8f8f8f" stroke-width="0.7" stroke-linejoin="round"/>
<polygon points="406,453 412,452 420,454 421,462 418,467.7 408,466" fill="#d1e5f0" stroke="#8f8f8f" stroke-width="0.7" stroke-linejoin="round"/>
<polygon points="416.9,452 421,450.3 426.8,448.7 428.4,441.3 430.9,438 433.4,441.3 433.4,451.2 432.5,460.2 427.6,461 422.7,459.4 416.9,454.5" fill="#d1e5f0" stroke="#8f8f8f" stroke-width="0.7" stroke-linejoin="round"/>
<polygon points="379,419 380.5,418.2 382.8,419 382.8,425.5 381,426.4 379,425.5" fill="#f7f7f7" stroke="#8f8f8f" stroke-width="0.7" stroke-linejoin="round"/>
<polygon points="428,419.8 431,421 435,428 434,433 430,431 427,424" fill="#f7f7f7" stroke="#8f8f8f" stroke-width="0.7" stroke-linejoin="round"/>
<polygon points="290.3,360 294.4,357.6 303.5,356.8 307.6,360 303.5,362.5 294.4,363.4 291.1,362.5" fill="#f7f7f7" stroke="#8f8f8f" stroke-width="0.7" stroke-linejoin="round"/>
<polygon points="211.5,36.5 215.7,30.7 221.4,32.4 226.4,30.7 229.7,32.4 227.2,36.5 221.4,39 215.7,37.3" fill="#d1e5f0" stroke="#8f8f8f" stroke-width="0.7" stroke-linejoin="round"/>
<polygon points="288.2,62.5 290.5,60.2 293.8,61 296,64.3 294.8,68.2 291.5,69.5 288.6,67" fill="#d1e5f0" stroke="#8f8f8f" stroke-width="0.7" stroke-linejoin="round"/>
<polygon points="321.4,98 324,95.7 328.9,96 327,99.8 323,100" fill="#67a9cf" stroke="#8f8f8f" stroke-width="0.7" stroke-linejoin="round"/>
<polygon points="3.5,206 5.5,205 9,216 10,226 8,226 5,216" fill="#f7f7f7" stroke="#8f8f8f" stroke-width="0.7" stroke-linejoin="round"/>
<polygon points="358,16 360,14.5 362,16.5 361,19 358.5,18.5" fill="#d1e5f0" stroke="#8f8f8f" stroke-width="0.7" stroke-linejoin="round"/>
<polygon points="360.5,21.5 363,20.5 364.5,23 362.5,25 360.5,24" fill="#d1e5f0" stroke="#8f8f8f" stroke-width="0.7" stroke-linejoin="round"/>
<polygon points="491.5,205 493.5,203.9 494.8,212 493.5,219.6 492,219" fill="#f7f7f7" stroke="#8f8f8f" stroke-width="0.7" stroke-linejoin="round"/>
<path d="M391.9,450.1 393.9,442.5M393.9,442.5 389,441.1M392,450.4 400,451M400,451 402.7,447.2M402.7,447.2 402.2,445.9M402.2,445.9 394.9,441.9M394.9,441.9 393.9,442.5M389.2,435.8 392,435.3M394.9,441.9 396.2,437.4M399.7,470.5 403.4,469M403.4,469 402.6,465.8M402.6,465.8 396.8,463.3M395.8,460.6 401.1,456.4M401.1,456.4 400,451M401.1,456.4 404.5,458M404.5,458 409.9,454M409.9,454 409.9,450.4M409.9,450.4 407.7,448M407.7,448 402.7,447.2M402.6,465.8 405.8,461.2M405.8,461.2 404.5,458M402.2,445.9 403.5,440.9M407.7,448 410.8,442.9M403,476.6 404.6,475.4M404.6,475.4 404.7,470M404.7,470 403.4,469M404.7,470 411.1,468.8M411.1,468.8 411.8,464.5M411.8,464.5 411.2,463.4M411.2,463.4 405.8,461.2M411.2,463.4 413.5,457.2M413.5,457.2 409.9,454M407.6,482 410.5,477.7M410.5,477.7 404.6,475.4M415.2,482.6 413.4,478.5M413.4,478.5 411.1,477.6M411.1,477.6 410.5,477.7M411.1,477.6 411.5,469.4M411.5,469.4 411.1,468.8M414.3,441.8 417.1,446M417.1,446 424,444.2M424,444.2 423.3,439.1M411.8,464.5 420.1,463.6M420.1,463.6 417.7,456.6M417.7,456.6 413.5,457.2M417.7,456.6 419.7,453.8M419.7,453.8 416.2,449M416.2,449 409.9,450.4M411.5,469.4 417.5,471.1M417.5,471.1 421.9,464.8M421.9,464.8 420.1,463.6M416.2,449 417.1,446M422.3,476.1 418.9,474.9M418.9,474.9 413.4,478.5M421.9,464.8 425.5,461.4M425.5,461.4 425.3,455.7M425.3,455.7 421.9,453.5M421.9,453.5 419.7,453.8M418.9,474.9 417.5,471.1M422.8,475.7 425.5,468.8M425.5,468.8 421.9,464.8M421.9,453.5 425.7,445.9M425.7,445.9 424,444.2M430.4,469.5 425.5,468.8M425.7,445.9 426.3,446M426.3,446 433.3,442.5M432.2,462 425.5,461.4M425.3,455.7 432.4,453.5M432.4,453.5 426.3,446M433.1,453.7 432.4,453.5" fill="none" stroke="#8f8f8f" stroke-width="0.7"/>
<polygon points="399.6,439.6 404.5,441.6 410.3,443.3 411.1,448.2 407,449.5 398.7,451.5 394.3,449.5" fill="#fddbc7" stroke="#8f8f8f" stroke-width="0.7" stroke-linejoin="round"/>
<circle cx="268.2" cy="261.9" r="0.8" fill="#f7f7f7" stroke="#8f8f8f" stroke-width="0.5"/>
<circle cx="294.4" cy="283.5" r="0.8" fill="#f7f7f7" stroke="#8f8f8f" stroke-width="0.5"/>
<circle cx="350.5" cy="303.2" r="0.8" fill="#f7f7f7" stroke="#8f8f8f" stroke-width="0.5"/>
<circle cx="358" cy="7" r="0.8" fill="#d1e5f0" stroke="#8f8f8f" stroke-width="0.5"/>
<circle cx="362" cy="8" r="0.8" fill="#d1e5f0" stroke="#8f8f8f" stroke-width="0.5"/>
<circle cx="366" cy="11" r="0.8" fill="#d1e5f0" stroke="#8f8f8f" stroke-width="0.5"/>
<circle cx="371" cy="10" r="0.8" fill="#d1e5f0" stroke="#8f8f8f" stroke-width="0.5"/>
<circle cx="359" cy="16" r="0.8" fill="#d1e5f0" stroke="#8f8f8f" stroke-width="0.5"/>
<circle cx="361" cy="21" r="0.8" fill="#d1e5f0" stroke="#8f8f8f" stroke-width="0.5"/>
<circle cx="364" cy="23" r="0.8" fill="#d1e5f0" stroke="#8f8f8f" stroke-width="0.5"/>
<circle cx="374" cy="14" r="0.8" fill="#d1e5f0" stroke="#8f8f8f" stroke-width="0.5"/>
<circle cx="382" cy="15" r="0.8" fill="#d1e5f0" stroke="#8f8f8f" stroke-width="0.5"/>
<circle cx="209" cy="117" r="0.8" fill="#d1e5f0" stroke="#8f8f8f" stroke-width="0.5"/>
<circle cx="222.5" cy="210" r="0.8" fill="#f7f7f7" stroke="#8f8f8f" stroke-width="0.5"/>
<circle cx="256.7" cy="190.5" r="0.8" fill="#d1e5f0" stroke="#8f8f8f" stroke-width="0.5"/>
<circle cx="440" cy="405" r="0.8" fill="#f7f7f7" stroke="#8f8f8f" stroke-width="0.5"/>
<circle cx="447" cy="400" r="0.8" fill="#f7f7f7" stroke="#8f8f8f" stroke-width="0.5"/>
<circle cx="452" cy="175" r="0.8" fill="#d1e5f0" stroke="#8f8f8f" stroke-width="0.5"/>
<circle cx="456" cy="178" r="0.8" fill="#d1e5f0" stroke="#8f8f8f" stroke-width="0.5"/>
<circle cx="449" cy="150" r="0.8" fill="#d1e5f0" stroke="#8f8f8f" stroke-width="0.5"/>
<circle cx="453" cy="157" r="0.8" fill="#d1e5f0" stroke="#8f8f8f" stroke-width="0.5"/>
<circle cx="447" cy="147" r="0.8" fill="#d1e5f0" stroke="#8f8f8f" stroke-width="0.5"/>
<circle cx="445" cy="141" r="0.8" fill="#d1e5f0" stroke="#8f8f8f" stroke-width="0.5"/>
<circle cx="406.1" cy="101.8" r="0.51" fill="#e4eaee" stroke="#8f8f8f" stroke-width="0.5"/>
<circle cx="408.7" cy="115.5" r="0.57" fill="#e4eaee" stroke="#8f8f8f" stroke-width="0.5"/>
<circle cx="374.0" cy="42.8" r="0.71" fill="#e4eaee" stroke="#8f8f8f" stroke-width="0.5"/>
<circle cx="368.3" cy="30.2" r="0.89" fill="#e4eaee" stroke="#8f8f8f" stroke-width="0.5"/>
<circle cx="375.3" cy="52.1" r="0.62" fill="#e4eaee" stroke="#8f8f8f" stroke-width="0.5"/>
<circle cx="411.8" cy="123.2" r="0.66" fill="#e4eaee" stroke="#8f8f8f" stroke-width="0.5"/>
<circle cx="417.2" cy="129.6" r="0.72" fill="#e4eaee" stroke="#8f8f8f" stroke-width="0.5"/>
<circle cx="381.5" cy="69.2" r="0.84" fill="#e4eaee" stroke="#8f8f8f" stroke-width="0.5"/>
<circle cx="411.1" cy="119.2" r="0.35" fill="#e4eaee" stroke="#8f8f8f" stroke-width="0.5"/>
<circle cx="412.0" cy="121.9" r="0.46" fill="#e4eaee" stroke="#8f8f8f" stroke-width="0.5"/>
<circle cx="400.5" cy="87.9" r="0.43" fill="#e4eaee" stroke="#8f8f8f" stroke-width="0.5"/>
<circle cx="382.2" cy="66.6" r="0.79" fill="#e4eaee" stroke="#8f8f8f" stroke-width="0.5"/>
<circle cx="409.6" cy="111.4" r="0.63" fill="#e4eaee" stroke="#8f8f8f" stroke-width="0.5"/>
<circle cx="377.3" cy="58.3" r="0.36" fill="#e4eaee" stroke="#8f8f8f" stroke-width="0.5"/>
<circle cx="379.0" cy="68.4" r="0.55" fill="#e4eaee" stroke="#8f8f8f" stroke-width="0.5"/>
<circle cx="418.2" cy="129.4" r="0.87" fill="#e4eaee" stroke="#8f8f8f" stroke-width="0.5"/>
<circle cx="446.2" cy="147.1" r="0.72" fill="#e4eaee" stroke="#8f8f8f" stroke-width="0.5"/>
<circle cx="450.8" cy="166.3" r="0.47" fill="#e4eaee" stroke="#8f8f8f" stroke-width="0.5"/>
<circle cx="444.6" cy="148.1" r="0.70" fill="#e4eaee" stroke="#8f8f8f" stroke-width="0.5"/>
<circle cx="452.7" cy="167.4" r="0.46" fill="#e4eaee" stroke="#8f8f8f" stroke-width="0.5"/>
<circle cx="442.9" cy="142.0" r="0.74" fill="#e4eaee" stroke="#8f8f8f" stroke-width="0.5"/>
<circle cx="447.2" cy="149.9" r="0.90" fill="#e4eaee" stroke="#8f8f8f" stroke-width="0.5"/>
<circle cx="452.9" cy="170.9" r="0.74" fill="#e4eaee" stroke="#8f8f8f" stroke-width="0.5"/>
<circle cx="455.3" cy="169.0" r="0.65" fill="#e4eaee" stroke="#8f8f8f" stroke-width="0.5"/>
<circle cx="453.9" cy="170.9" r="0.57" fill="#e4eaee" stroke="#8f8f8f" stroke-width="0.5"/>
<circle cx="446.9" cy="153.6" r="0.70" fill="#e4eaee" stroke="#8f8f8f" stroke-width="0.5"/>
<circle cx="450.6" cy="168.4" r="0.89" fill="#e4eaee" stroke="#8f8f8f" stroke-width="0.5"/>
<circle cx="468.0" cy="180.2" r="0.44" fill="#e4eaee" stroke="#8f8f8f" stroke-width="0.5"/>
<circle cx="451.4" cy="168.5" r="0.81" fill="#e4eaee" stroke="#8f8f8f" stroke-width="0.5"/>
<circle cx="444.2" cy="148.6" r="0.49" fill="#e4eaee" stroke="#8f8f8f" stroke-width="0.5"/>
<circle cx="449.1" cy="165.5" r="0.83" fill="#e4eaee" stroke="#8f8f8f" stroke-width="0.5"/>
<circle cx="447.7" cy="155.4" r="0.38" fill="#e4eaee" stroke="#8f8f8f" stroke-width="0.5"/>
<circle cx="452.7" cy="170.3" r="0.86" fill="#e4eaee" stroke="#8f8f8f" stroke-width="0.5"/>
<circle cx="432.0" cy="137.6" r="0.60" fill="#e4eaee" stroke="#8f8f8f" stroke-width="0.5"/>
<circle cx="431.5" cy="138.0" r="0.79" fill="#e4eaee" stroke="#8f8f8f" stroke-width="0.5"/>
<circle cx="453.2" cy="169.0" r="0.76" fill="#e4eaee" stroke="#8f8f8f" stroke-width="0.5"/>
<circle cx="453.8" cy="168.7" r="0.35" fill="#e4eaee" stroke="#8f8f8f" stroke-width="0.5"/>
<circle cx="448.5" cy="161.2" r="0.47" fill="#e4eaee" stroke="#8f8f8f" stroke-width="0.5"/>
<circle cx="123.9" cy="334.5" r="0.68" fill="#e4eaee" stroke="#8f8f8f" stroke-width="0.5"/>
<circle cx="124.1" cy="334.9" r="0.55" fill="#e4eaee" stroke="#8f8f8f" stroke-width="0.5"/>
<circle cx="108.8" cy="335.9" r="0.87" fill="#e4eaee" stroke="#8f8f8f" stroke-width="0.5"/>
<circle cx="121.3" cy="336.5" r="0.54" fill="#e4eaee" stroke="#8f8f8f" stroke-width="0.5"/>
<circle cx="134.1" cy="335.0" r="0.63" fill="#e4eaee" stroke="#8f8f8f" stroke-width="0.5"/>
<circle cx="99.9" cy="330.6" r="0.52" fill="#e4eaee" stroke="#8f8f8f" stroke-width="0.5"/>
<circle cx="123.8" cy="334.0" r="0.64" fill="#e4eaee" stroke="#8f8f8f" stroke-width="0.5"/>
<circle cx="120.5" cy="337.0" r="0.36" fill="#e4eaee" stroke="#8f8f8f" stroke-width="0.5"/>
<circle cx="262.6" cy="321.8" r="0.75" fill="#e4eaee" stroke="#8f8f8f" stroke-width="0.5"/>
<circle cx="262.5" cy="321.6" r="0.62" fill="#e4eaee" stroke="#8f8f8f" stroke-width="0.5"/>
<circle cx="263.9" cy="322.7" r="0.72" fill="#e4eaee" stroke="#8f8f8f" stroke-width="0.5"/>
<circle cx="263.5" cy="323.7" r="0.76" fill="#e4eaee" stroke="#8f8f8f" stroke-width="0.5"/>
<circle cx="258.8" cy="316.3" r="0.49" fill="#e4eaee" stroke="#8f8f8f" stroke-width="0.5"/>
<circle cx="257.8" cy="310.6" r="0.49" fill="#e4eaee" stroke="#8f8f8f" stroke-width="0.5"/>
<circle cx="272.7" cy="340.2" r="0.49" fill="#e4eaee" stroke="#8f8f8f" stroke-width="0.5"/>
<circle cx="257.7" cy="311.0" r="0.72" fill="#e4eaee" stroke="#8f8f8f" stroke-width="0.5"/>
<circle cx="431.1" cy="472.4" r="0.50" fill="#e4eaee" stroke="#8f8f8f" stroke-width="0.5"/>
<circle cx="426.3" cy="476.3" r="0.46" fill="#e4eaee" stroke="#8f8f8f" stroke-width="0.5"/>
<circle cx="432.9" cy="462.9" r="0.53" fill="#e4eaee" stroke="#8f8f8f" stroke-width="0.5"/>
<circle cx="426.2" cy="475.3" r="0.55" fill="#e4eaee" stroke="#8f8f8f" stroke-width="0.5"/>
<circle cx="428.9" cy="476.4" r="0.47" fill="#e4eaee" stroke="#8f8f8f" stroke-width="0.5"/>
<circle cx="433.2" cy="464.1" r="0.89" fill="#e4eaee" stroke="#8f8f8f" stroke-width="0.5"/>
<circle cx="168.0" cy="62.2" r="0.86" fill="#e4eaee" stroke="#8f8f8f" stroke-width="0.5"/>
<circle cx="187.2" cy="76.4" r="0.57" fill="#e4eaee" stroke="#8f8f8f" stroke-width="0.5"/>
<circle cx="145.1" cy="79.7" r="0.63" fill="#e4eaee" stroke="#8f8f8f" stroke-width="0.5"/>
<circle cx="188.1" cy="74.2" r="0.80" fill="#e4eaee" stroke="#8f8f8f" stroke-width="0.5"/>
<circle cx="190.8" cy="71.0" r="0.56" fill="#e4eaee" stroke="#8f8f8f" stroke-width="0.5"/>
<circle cx="169.1" cy="62.6" r="0.56" fill="#e4eaee" stroke="#8f8f8f" stroke-width="0.5"/>
<circle cx="166.0" cy="63.1" r="0.48" fill="#e4eaee" stroke="#8f8f8f" stroke-width="0.5"/>
<circle cx="159.6" cy="66.1" r="0.59" fill="#e4eaee" stroke="#8f8f8f" stroke-width="0.5"/>
<circle cx="150.7" cy="70.3" r="0.42" fill="#e4eaee" stroke="#8f8f8f" stroke-width="0.5"/>
<circle cx="140.3" cy="88.8" r="0.41" fill="#e4eaee" stroke="#8f8f8f" stroke-width="0.5"/>
<circle cx="189.4" cy="72.7" r="0.39" fill="#e4eaee" stroke="#8f8f8f" stroke-width="0.5"/>
<circle cx="160.9" cy="64.5" r="0.49" fill="#e4eaee" stroke="#8f8f8f" stroke-width="0.5"/>
<circle cx="169.3" cy="63.5" r="0.87" fill="#e4eaee" stroke="#8f8f8f" stroke-width="0.5"/>
<circle cx="167.7" cy="62.4" r="0.45" fill="#e4eaee" stroke="#8f8f8f" stroke-width="0.5"/>
<circle cx="191.0" cy="74.3" r="0.45" fill="#e4eaee" stroke="#8f8f8f" stroke-width="0.5"/>
<circle cx="160.7" cy="65.8" r="0.56" fill="#e4eaee" stroke="#8f8f8f" stroke-width="0.5"/>
<circle cx="162.9" cy="63.6" r="0.59" fill="#e4eaee" stroke="#8f8f8f" stroke-width="0.5"/>
<circle cx="184.7" cy="68.5" r="0.87" fill="#e4eaee" stroke="#8f8f8f" stroke-width="0.5"/>
<circle cx="190.5" cy="82.6" r="0.66" fill="#e4eaee" stroke="#8f8f8f" stroke-width="0.5"/>
<circle cx="171.6" cy="63.8" r="0.52" fill="#e4eaee" stroke="#8f8f8f" stroke-width="0.5"/>
<circle cx="176.4" cy="60.8" r="0.43" fill="#e4eaee" stroke="#8f8f8f" stroke-width="0.5"/>
<circle cx="188.7" cy="76.1" r="0.61" fill="#e4eaee" stroke="#8f8f8f" stroke-width="0.5"/>
<circle cx="186.5" cy="69.6" r="0.49" fill="#e4eaee" stroke="#8f8f8f" stroke-width="0.5"/>
<circle cx="186.2" cy="79.2" r="0.57" fill="#e4eaee" stroke="#8f8f8f" stroke-width="0.5"/>
<circle cx="158.2" cy="68.2" r="0.88" fill="#e4eaee" stroke="#8f8f8f" stroke-width="0.5"/>
<circle cx="189.7" cy="78.7" r="0.71" fill="#e4eaee" stroke="#8f8f8f" stroke-width="0.5"/>
<circle cx="137.3" cy="99.7" r="0.39" fill="#e4eaee" stroke="#8f8f8f" stroke-width="0.5"/>
<circle cx="123.3" cy="94.9" r="0.81" fill="#e4eaee" stroke="#8f8f8f" stroke-width="0.5"/>
<circle cx="138.0" cy="96.8" r="0.38" fill="#e4eaee" stroke="#8f8f8f" stroke-width="0.5"/>
<circle cx="130.1" cy="96.8" r="0.80" fill="#e4eaee" stroke="#8f8f8f" stroke-width="0.5"/>
<circle cx="129.8" cy="100.4" r="0.50" fill="#e4eaee" stroke="#8f8f8f" stroke-width="0.5"/>
<circle cx="118.6" cy="99.2" r="0.89" fill="#e4eaee" stroke="#8f8f8f" stroke-width="0.5"/>
<circle cx="202.1" cy="66.5" r="0.50" fill="#e4eaee" stroke="#8f8f8f" stroke-width="0.5"/>
<circle cx="205.6" cy="58.7" r="0.68" fill="#e4eaee" stroke="#8f8f8f" stroke-width="0.5"/>
<circle cx="221.1" cy="42.6" r="0.62" fill="#e4eaee" stroke="#8f8f8f" stroke-width="0.5"/>
<circle cx="205.1" cy="71.7" r="0.52" fill="#e4eaee" stroke="#8f8f8f" stroke-width="0.5"/>
<circle cx="205.3" cy="72.8" r="0.45" fill="#e4eaee" stroke="#8f8f8f" stroke-width="0.5"/>
<circle cx="210.6" cy="51.5" r="0.67" fill="#e4eaee" stroke="#8f8f8f" stroke-width="0.5"/>
<circle cx="209.3" cy="55.2" r="0.84" fill="#e4eaee" stroke="#8f8f8f" stroke-width="0.5"/>
<circle cx="205.3" cy="63.4" r="0.67" fill="#e4eaee" stroke="#8f8f8f" stroke-width="0.5"/>
<circle cx="240.0" cy="27.3" r="0.64" fill="#e4eaee" stroke="#8f8f8f" stroke-width="0.5"/>
<circle cx="251.3" cy="32.2" r="0.39" fill="#e4eaee" stroke="#8f8f8f" stroke-width="0.5"/>
<circle cx="267.9" cy="39.2" r="0.49" fill="#e4eaee" stroke="#8f8f8f" stroke-width="0.5"/>
<circle cx="235.7" cy="32.9" r="0.66" fill="#e4eaee" stroke="#8f8f8f" stroke-width="0.5"/>
<circle cx="243.3" cy="28.8" r="0.43" fill="#e4eaee" stroke="#8f8f8f" stroke-width="0.5"/>
<circle cx="238.5" cy="36.5" r="0.85" fill="#e4eaee" stroke="#8f8f8f" stroke-width="0.5"/>
<circle cx="242.8" cy="28.4" r="0.64" fill="#e4eaee" stroke="#8f8f8f" stroke-width="0.5"/>
<circle cx="243.9" cy="27.9" r="0.76" fill="#e4eaee" stroke="#8f8f8f" stroke-width="0.5"/>
<circle cx="294.4" cy="38.4" r="0.85" fill="#e4eaee" stroke="#8f8f8f" stroke-width="0.5"/>
<circle cx="288.1" cy="56.3" r="0.47" fill="#e4eaee" stroke="#8f8f8f" stroke-width="0.5"/>
<circle cx="290.0" cy="35.3" r="0.36" fill="#e4eaee" stroke="#8f8f8f" stroke-width="0.5"/>
<circle cx="295.4" cy="48.1" r="0.65" fill="#e4eaee" stroke="#8f8f8f" stroke-width="0.5"/>
<circle cx="296.2" cy="43.4" r="0.48" fill="#e4eaee" stroke="#8f8f8f" stroke-width="0.5"/>
<circle cx="293.1" cy="54.1" r="0.87" fill="#e4eaee" stroke="#8f8f8f" stroke-width="0.5"/>
<circle cx="290.9" cy="55.9" r="0.53" fill="#e4eaee" stroke="#8f8f8f" stroke-width="0.5"/>
<circle cx="282.5" cy="38.8" r="0.74" fill="#e4eaee" stroke="#8f8f8f" stroke-width="0.5"/>
<circle cx="290.2" cy="57.1" r="0.40" fill="#e4eaee" stroke="#8f8f8f" stroke-width="0.5"/>
<circle cx="290.6" cy="56.2" r="0.58" fill="#e4eaee" stroke="#8f8f8f" stroke-width="0.5"/>
<circle cx="289.1" cy="35.1" r="0.48" fill="#e4eaee" stroke="#8f8f8f" stroke-width="0.5"/>
<circle cx="285.1" cy="37.3" r="0.43" fill="#e4eaee" stroke="#8f8f8f" stroke-width="0.5"/>
<circle cx="23.0" cy="164.7" r="0.58" fill="#e4eaee" stroke="#8f8f8f" stroke-width="0.5"/>
<circle cx="83.9" cy="140.2" r="0.60" fill="#e4eaee" stroke="#8f8f8f" stroke-width="0.5"/>
<circle cx="71.2" cy="143.0" r="0.46" fill="#e4eaee" stroke="#8f8f8f" stroke-width="0.5"/>
<circle cx="25.5" cy="160.6" r="0.67" fill="#e4eaee" stroke="#8f8f8f" stroke-width="0.5"/>
<circle cx="59.2" cy="148.5" r="0.47" fill="#e4eaee" stroke="#8f8f8f" stroke-width="0.5"/>
<circle cx="80.5" cy="140.3" r="0.50" fill="#e4eaee" stroke="#8f8f8f" stroke-width="0.5"/>
<circle cx="27.8" cy="160.4" r="0.48" fill="#e4eaee" stroke="#8f8f8f" stroke-width="0.5"/>
<circle cx="69.7" cy="142.4" r="0.44" fill="#e4eaee" stroke="#8f8f8f" stroke-width="0.5"/>
<circle cx="40.2" cy="150.7" r="0.65" fill="#e4eaee" stroke="#8f8f8f" stroke-width="0.5"/>
<circle cx="77.4" cy="140.9" r="0.66" fill="#e4eaee" stroke="#8f8f8f" stroke-width="0.5"/>
<path d="M279.1,41.4 L286,35 L292.3,28.2" fill="none" stroke="#8f8f8f" stroke-width="0.9"/>
<g font-family="'Liberation Sans', sans-serif">
<text x="525.5" y="289.7" font-size="16" font-weight="bold" fill="#1a1a1a" textLength="218.3" lengthAdjust="spacingAndGlyphs">Environmental Condition Score</text>
<text x="525.5" y="314" font-size="16" font-weight="bold" fill="#1a1a1a" textLength="44.3" lengthAdjust="spacingAndGlyphs">(2025)</text>
<circle cx="532.4" cy="330.20" r="7.6" fill="#2166ac"/>
<text x="542.9" y="334.30" font-size="12.6" fill="#3a3a3a" textLength="110.6" lengthAdjust="spacingAndGlyphs">9-10 composite score</text>
<circle cx="532.4" cy="348.35" r="7.6" fill="#67a9cf"/>
<text x="542.9" y="352.45" font-size="12.6" fill="#3a3a3a" textLength="104.3" lengthAdjust="spacingAndGlyphs">8-9 composite score</text>
<circle cx="532.4" cy="366.50" r="7.6" fill="#d1e5f0"/>
<text x="542.9" y="370.60" font-size="12.6" fill="#3a3a3a" textLength="104.3" lengthAdjust="spacingAndGlyphs">6-8 composite score</text>
<circle cx="532.4" cy="384.65" r="7.6" fill="#f7f7f7"/>
<text x="542.9" y="388.75" font-size="12.6" fill="#3a3a3a" textLength="104.3" lengthAdjust="spacingAndGlyphs">4-6 composite score</text>
<circle cx="532.4" cy="402.80" r="7.6" fill="#fddbc7"/>
<text x="542.9" y="406.90" font-size="12.6" fill="#3a3a3a" textLength="104.3" lengthAdjust="spacingAndGlyphs">2-4 composite score</text>
<circle cx="532.4" cy="420.95" r="7.6" fill="#ef8a62"/>
<text x="542.9" y="425.05" font-size="12.6" fill="#3a3a3a" textLength="104.3" lengthAdjust="spacingAndGlyphs">1-2 composite score</text>
<circle cx="532.4" cy="439.10" r="7.6" fill="#b2182b"/>
<text x="542.9" y="443.20" font-size="12.6" fill="#3a3a3a" textLength="104.3" lengthAdjust="spacingAndGlyphs">0-1 composite score</text>
<text x="525.5" y="461.7" font-size="12.6" fill="#3a3a3a" textLength="64.6" lengthAdjust="spacingAndGlyphs">Source: ANU</text>
</g>
</svg>
</body></html>
